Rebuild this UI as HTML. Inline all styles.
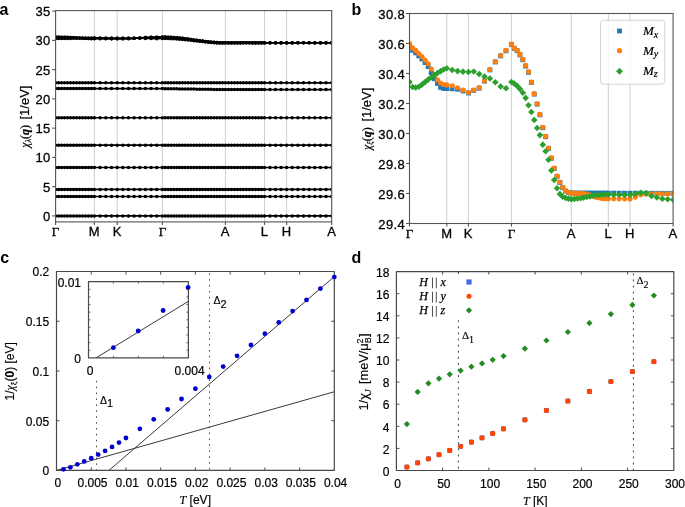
<!DOCTYPE html>
<html><head><meta charset="utf-8"><style>
html,body{margin:0;padding:0;background:#fff;}
svg{display:block;}
svg{will-change:transform;}
.ta{font-family:"Liberation Sans", sans-serif;font-size:13px;fill:#000;letter-spacing:0.4px;stroke:#000;stroke-width:0.3px;}
.tc{font-family:"Liberation Sans", sans-serif;font-size:12px;fill:#000;stroke:#000;stroke-width:0.2px;}
.tcl{font-family:"Liberation Sans", sans-serif;font-size:12px;fill:#000;stroke:#000;stroke-width:0.15px;}
.yl{font-family:"Liberation Sans", sans-serif;font-size:12px;fill:#000;stroke:#000;stroke-width:0.2px;}
.tg{font-family:"Liberation Serif", serif;font-size:13px;fill:#000;stroke:#000;stroke-width:0.3px;}
.lab{font-family:"Liberation Sans", sans-serif;font-size:16px;font-weight:bold;fill:#000;}
.leg{font-family:"Liberation Serif", serif;font-size:13px;font-style:italic;fill:#000;stroke:#000;stroke-width:0.2px;}
.dleg{font-family:"Liberation Serif", serif;font-size:12px;fill:#000;stroke:#000;stroke-width:0.25px;}
.dl{font-family:"Liberation Sans", sans-serif;font-size:10.5px;fill:#000;stroke:#000;stroke-width:0.15px;}
.dl2{font-family:"Liberation Serif", serif;font-size:11px;fill:#000;stroke:#000;stroke-width:0.15px;}
</style></head><body>
<svg width="685" height="507" viewBox="0 0 685 507">
<rect width="685" height="507" fill="#fff"/>
<g id="pa">
<line x1="94.4" y1="10.6" x2="94.4" y2="221.9" stroke="#c8c8c8" stroke-width="0.9"/>
<line x1="117.2" y1="10.6" x2="117.2" y2="221.9" stroke="#c8c8c8" stroke-width="0.9"/>
<line x1="162.4" y1="10.6" x2="162.4" y2="221.9" stroke="#c8c8c8" stroke-width="0.9"/>
<line x1="225.4" y1="10.6" x2="225.4" y2="221.9" stroke="#c8c8c8" stroke-width="0.9"/>
<line x1="264.5" y1="10.6" x2="264.5" y2="221.9" stroke="#c8c8c8" stroke-width="0.9"/>
<line x1="286.6" y1="10.6" x2="286.6" y2="221.9" stroke="#c8c8c8" stroke-width="0.9"/>
<clipPath id="ca"><rect x="55.6" y="10.6" width="276.1" height="211.3"/></clipPath><g clip-path="url(#ca)">
<polyline points="55.6,215.9 58.58,215.9 61.57,215.9 64.55,215.9 67.54,215.9 70.52,215.9 73.51,215.9 76.49,215.9 79.48,215.9 82.46,215.9 85.45,215.9 88.43,215.9 91.42,215.9 94.4,215.9 100.1,215.9 105.8,215.9 111.5,215.9 117.2,215.9 122.85,215.9 128.5,215.9 134.15,215.9 139.8,215.9 145.45,215.9 151.1,215.9 156.75,215.9 162.4,215.9 165.26,215.9 168.13,215.9 170.99,215.9 173.85,215.9 176.72,215.9 179.58,215.9 182.45,215.9 185.31,215.9 188.17,215.9 191.04,215.9 193.9,215.9 196.76,215.9 199.63,215.9 202.49,215.9 205.35,215.9 208.22,215.9 211.08,215.9 213.95,215.9 216.81,215.9 219.67,215.9 222.54,215.9 225.4,215.9 228.41,215.9 231.42,215.9 234.42,215.9 237.43,215.9 240.44,215.9 243.45,215.9 246.45,215.9 249.46,215.9 252.47,215.9 255.48,215.9 258.48,215.9 261.49,215.9 264.5,215.9 270.02,215.9 275.55,215.9 281.08,215.9 286.6,215.9 292.24,215.9 297.88,215.9 303.51,215.9 309.15,215.9 314.79,215.9 320.43,215.9 326.06,215.9 331.7,215.9" fill="none" stroke="#000" stroke-width="1.6"/>
<g fill="#000"><circle cx="55.6" cy="215.9" r="1.75"/><circle cx="58.58" cy="215.9" r="1.75"/><circle cx="61.57" cy="215.9" r="1.75"/><circle cx="64.55" cy="215.9" r="1.75"/><circle cx="67.54" cy="215.9" r="1.75"/><circle cx="70.52" cy="215.9" r="1.75"/><circle cx="73.51" cy="215.9" r="1.75"/><circle cx="76.49" cy="215.9" r="1.75"/><circle cx="79.48" cy="215.9" r="1.75"/><circle cx="82.46" cy="215.9" r="1.75"/><circle cx="85.45" cy="215.9" r="1.75"/><circle cx="88.43" cy="215.9" r="1.75"/><circle cx="91.42" cy="215.9" r="1.75"/><circle cx="94.4" cy="215.9" r="1.75"/><circle cx="100.1" cy="215.9" r="1.75"/><circle cx="105.8" cy="215.9" r="1.75"/><circle cx="111.5" cy="215.9" r="1.75"/><circle cx="117.2" cy="215.9" r="1.75"/><circle cx="122.85" cy="215.9" r="1.75"/><circle cx="128.5" cy="215.9" r="1.75"/><circle cx="134.15" cy="215.9" r="1.75"/><circle cx="139.8" cy="215.9" r="1.75"/><circle cx="145.45" cy="215.9" r="1.75"/><circle cx="151.1" cy="215.9" r="1.75"/><circle cx="156.75" cy="215.9" r="1.75"/><circle cx="162.4" cy="215.9" r="1.75"/><circle cx="165.26" cy="215.9" r="1.75"/><circle cx="168.13" cy="215.9" r="1.75"/><circle cx="170.99" cy="215.9" r="1.75"/><circle cx="173.85" cy="215.9" r="1.75"/><circle cx="176.72" cy="215.9" r="1.75"/><circle cx="179.58" cy="215.9" r="1.75"/><circle cx="182.45" cy="215.9" r="1.75"/><circle cx="185.31" cy="215.9" r="1.75"/><circle cx="188.17" cy="215.9" r="1.75"/><circle cx="191.04" cy="215.9" r="1.75"/><circle cx="193.9" cy="215.9" r="1.75"/><circle cx="196.76" cy="215.9" r="1.75"/><circle cx="199.63" cy="215.9" r="1.75"/><circle cx="202.49" cy="215.9" r="1.75"/><circle cx="205.35" cy="215.9" r="1.75"/><circle cx="208.22" cy="215.9" r="1.75"/><circle cx="211.08" cy="215.9" r="1.75"/><circle cx="213.95" cy="215.9" r="1.75"/><circle cx="216.81" cy="215.9" r="1.75"/><circle cx="219.67" cy="215.9" r="1.75"/><circle cx="222.54" cy="215.9" r="1.75"/><circle cx="225.4" cy="215.9" r="1.75"/><circle cx="228.41" cy="215.9" r="1.75"/><circle cx="231.42" cy="215.9" r="1.75"/><circle cx="234.42" cy="215.9" r="1.75"/><circle cx="237.43" cy="215.9" r="1.75"/><circle cx="240.44" cy="215.9" r="1.75"/><circle cx="243.45" cy="215.9" r="1.75"/><circle cx="246.45" cy="215.9" r="1.75"/><circle cx="249.46" cy="215.9" r="1.75"/><circle cx="252.47" cy="215.9" r="1.75"/><circle cx="255.48" cy="215.9" r="1.75"/><circle cx="258.48" cy="215.9" r="1.75"/><circle cx="261.49" cy="215.9" r="1.75"/><circle cx="264.5" cy="215.9" r="1.75"/><circle cx="270.02" cy="215.9" r="1.75"/><circle cx="275.55" cy="215.9" r="1.75"/><circle cx="281.08" cy="215.9" r="1.75"/><circle cx="286.6" cy="215.9" r="1.75"/><circle cx="292.24" cy="215.9" r="1.75"/><circle cx="297.88" cy="215.9" r="1.75"/><circle cx="303.51" cy="215.9" r="1.75"/><circle cx="309.15" cy="215.9" r="1.75"/><circle cx="314.79" cy="215.9" r="1.75"/><circle cx="320.43" cy="215.9" r="1.75"/><circle cx="326.06" cy="215.9" r="1.75"/><circle cx="331.7" cy="215.9" r="1.75"/></g>
<polyline points="55.6,196.48 58.58,196.48 61.57,196.48 64.55,196.48 67.54,196.48 70.52,196.48 73.51,196.48 76.49,196.48 79.48,196.48 82.46,196.48 85.45,196.48 88.43,196.48 91.42,196.48 94.4,196.48 100.1,196.48 105.8,196.48 111.5,196.48 117.2,196.48 122.85,196.48 128.5,196.48 134.15,196.48 139.8,196.48 145.45,196.48 151.1,196.48 156.75,196.48 162.4,196.48 165.26,196.48 168.13,196.48 170.99,196.48 173.85,196.48 176.72,196.48 179.58,196.48 182.45,196.48 185.31,196.48 188.17,196.48 191.04,196.48 193.9,196.48 196.76,196.48 199.63,196.48 202.49,196.48 205.35,196.48 208.22,196.48 211.08,196.48 213.95,196.48 216.81,196.48 219.67,196.48 222.54,196.48 225.4,196.48 228.41,196.48 231.42,196.48 234.42,196.48 237.43,196.48 240.44,196.48 243.45,196.48 246.45,196.48 249.46,196.48 252.47,196.48 255.48,196.48 258.48,196.48 261.49,196.48 264.5,196.48 270.02,196.48 275.55,196.48 281.08,196.48 286.6,196.48 292.24,196.48 297.88,196.48 303.51,196.48 309.15,196.48 314.79,196.48 320.43,196.48 326.06,196.48 331.7,196.48" fill="none" stroke="#000" stroke-width="1.6"/>
<g fill="#000"><circle cx="55.6" cy="196.48" r="1.75"/><circle cx="58.58" cy="196.48" r="1.75"/><circle cx="61.57" cy="196.48" r="1.75"/><circle cx="64.55" cy="196.48" r="1.75"/><circle cx="67.54" cy="196.48" r="1.75"/><circle cx="70.52" cy="196.48" r="1.75"/><circle cx="73.51" cy="196.48" r="1.75"/><circle cx="76.49" cy="196.48" r="1.75"/><circle cx="79.48" cy="196.48" r="1.75"/><circle cx="82.46" cy="196.48" r="1.75"/><circle cx="85.45" cy="196.48" r="1.75"/><circle cx="88.43" cy="196.48" r="1.75"/><circle cx="91.42" cy="196.48" r="1.75"/><circle cx="94.4" cy="196.48" r="1.75"/><circle cx="100.1" cy="196.48" r="1.75"/><circle cx="105.8" cy="196.48" r="1.75"/><circle cx="111.5" cy="196.48" r="1.75"/><circle cx="117.2" cy="196.48" r="1.75"/><circle cx="122.85" cy="196.48" r="1.75"/><circle cx="128.5" cy="196.48" r="1.75"/><circle cx="134.15" cy="196.48" r="1.75"/><circle cx="139.8" cy="196.48" r="1.75"/><circle cx="145.45" cy="196.48" r="1.75"/><circle cx="151.1" cy="196.48" r="1.75"/><circle cx="156.75" cy="196.48" r="1.75"/><circle cx="162.4" cy="196.48" r="1.75"/><circle cx="165.26" cy="196.48" r="1.75"/><circle cx="168.13" cy="196.48" r="1.75"/><circle cx="170.99" cy="196.48" r="1.75"/><circle cx="173.85" cy="196.48" r="1.75"/><circle cx="176.72" cy="196.48" r="1.75"/><circle cx="179.58" cy="196.48" r="1.75"/><circle cx="182.45" cy="196.48" r="1.75"/><circle cx="185.31" cy="196.48" r="1.75"/><circle cx="188.17" cy="196.48" r="1.75"/><circle cx="191.04" cy="196.48" r="1.75"/><circle cx="193.9" cy="196.48" r="1.75"/><circle cx="196.76" cy="196.48" r="1.75"/><circle cx="199.63" cy="196.48" r="1.75"/><circle cx="202.49" cy="196.48" r="1.75"/><circle cx="205.35" cy="196.48" r="1.75"/><circle cx="208.22" cy="196.48" r="1.75"/><circle cx="211.08" cy="196.48" r="1.75"/><circle cx="213.95" cy="196.48" r="1.75"/><circle cx="216.81" cy="196.48" r="1.75"/><circle cx="219.67" cy="196.48" r="1.75"/><circle cx="222.54" cy="196.48" r="1.75"/><circle cx="225.4" cy="196.48" r="1.75"/><circle cx="228.41" cy="196.48" r="1.75"/><circle cx="231.42" cy="196.48" r="1.75"/><circle cx="234.42" cy="196.48" r="1.75"/><circle cx="237.43" cy="196.48" r="1.75"/><circle cx="240.44" cy="196.48" r="1.75"/><circle cx="243.45" cy="196.48" r="1.75"/><circle cx="246.45" cy="196.48" r="1.75"/><circle cx="249.46" cy="196.48" r="1.75"/><circle cx="252.47" cy="196.48" r="1.75"/><circle cx="255.48" cy="196.48" r="1.75"/><circle cx="258.48" cy="196.48" r="1.75"/><circle cx="261.49" cy="196.48" r="1.75"/><circle cx="264.5" cy="196.48" r="1.75"/><circle cx="270.02" cy="196.48" r="1.75"/><circle cx="275.55" cy="196.48" r="1.75"/><circle cx="281.08" cy="196.48" r="1.75"/><circle cx="286.6" cy="196.48" r="1.75"/><circle cx="292.24" cy="196.48" r="1.75"/><circle cx="297.88" cy="196.48" r="1.75"/><circle cx="303.51" cy="196.48" r="1.75"/><circle cx="309.15" cy="196.48" r="1.75"/><circle cx="314.79" cy="196.48" r="1.75"/><circle cx="320.43" cy="196.48" r="1.75"/><circle cx="326.06" cy="196.48" r="1.75"/><circle cx="331.7" cy="196.48" r="1.75"/></g>
<polyline points="55.6,189.4 58.58,189.4 61.57,189.4 64.55,189.4 67.54,189.4 70.52,189.4 73.51,189.4 76.49,189.4 79.48,189.4 82.46,189.4 85.45,189.4 88.43,189.4 91.42,189.4 94.4,189.4 100.1,189.4 105.8,189.4 111.5,189.4 117.2,189.4 122.85,189.4 128.5,189.4 134.15,189.4 139.8,189.4 145.45,189.4 151.1,189.4 156.75,189.4 162.4,189.4 165.26,189.4 168.13,189.4 170.99,189.4 173.85,189.4 176.72,189.4 179.58,189.4 182.45,189.4 185.31,189.4 188.17,189.4 191.04,189.4 193.9,189.4 196.76,189.4 199.63,189.4 202.49,189.4 205.35,189.4 208.22,189.4 211.08,189.4 213.95,189.4 216.81,189.4 219.67,189.4 222.54,189.4 225.4,189.4 228.41,189.4 231.42,189.4 234.42,189.4 237.43,189.4 240.44,189.4 243.45,189.4 246.45,189.4 249.46,189.4 252.47,189.4 255.48,189.4 258.48,189.4 261.49,189.4 264.5,189.4 270.02,189.4 275.55,189.4 281.08,189.4 286.6,189.4 292.24,189.4 297.88,189.4 303.51,189.4 309.15,189.4 314.79,189.4 320.43,189.4 326.06,189.4 331.7,189.4" fill="none" stroke="#000" stroke-width="1.6"/>
<g fill="#000"><circle cx="55.6" cy="189.4" r="1.75"/><circle cx="58.58" cy="189.4" r="1.75"/><circle cx="61.57" cy="189.4" r="1.75"/><circle cx="64.55" cy="189.4" r="1.75"/><circle cx="67.54" cy="189.4" r="1.75"/><circle cx="70.52" cy="189.4" r="1.75"/><circle cx="73.51" cy="189.4" r="1.75"/><circle cx="76.49" cy="189.4" r="1.75"/><circle cx="79.48" cy="189.4" r="1.75"/><circle cx="82.46" cy="189.4" r="1.75"/><circle cx="85.45" cy="189.4" r="1.75"/><circle cx="88.43" cy="189.4" r="1.75"/><circle cx="91.42" cy="189.4" r="1.75"/><circle cx="94.4" cy="189.4" r="1.75"/><circle cx="100.1" cy="189.4" r="1.75"/><circle cx="105.8" cy="189.4" r="1.75"/><circle cx="111.5" cy="189.4" r="1.75"/><circle cx="117.2" cy="189.4" r="1.75"/><circle cx="122.85" cy="189.4" r="1.75"/><circle cx="128.5" cy="189.4" r="1.75"/><circle cx="134.15" cy="189.4" r="1.75"/><circle cx="139.8" cy="189.4" r="1.75"/><circle cx="145.45" cy="189.4" r="1.75"/><circle cx="151.1" cy="189.4" r="1.75"/><circle cx="156.75" cy="189.4" r="1.75"/><circle cx="162.4" cy="189.4" r="1.75"/><circle cx="165.26" cy="189.4" r="1.75"/><circle cx="168.13" cy="189.4" r="1.75"/><circle cx="170.99" cy="189.4" r="1.75"/><circle cx="173.85" cy="189.4" r="1.75"/><circle cx="176.72" cy="189.4" r="1.75"/><circle cx="179.58" cy="189.4" r="1.75"/><circle cx="182.45" cy="189.4" r="1.75"/><circle cx="185.31" cy="189.4" r="1.75"/><circle cx="188.17" cy="189.4" r="1.75"/><circle cx="191.04" cy="189.4" r="1.75"/><circle cx="193.9" cy="189.4" r="1.75"/><circle cx="196.76" cy="189.4" r="1.75"/><circle cx="199.63" cy="189.4" r="1.75"/><circle cx="202.49" cy="189.4" r="1.75"/><circle cx="205.35" cy="189.4" r="1.75"/><circle cx="208.22" cy="189.4" r="1.75"/><circle cx="211.08" cy="189.4" r="1.75"/><circle cx="213.95" cy="189.4" r="1.75"/><circle cx="216.81" cy="189.4" r="1.75"/><circle cx="219.67" cy="189.4" r="1.75"/><circle cx="222.54" cy="189.4" r="1.75"/><circle cx="225.4" cy="189.4" r="1.75"/><circle cx="228.41" cy="189.4" r="1.75"/><circle cx="231.42" cy="189.4" r="1.75"/><circle cx="234.42" cy="189.4" r="1.75"/><circle cx="237.43" cy="189.4" r="1.75"/><circle cx="240.44" cy="189.4" r="1.75"/><circle cx="243.45" cy="189.4" r="1.75"/><circle cx="246.45" cy="189.4" r="1.75"/><circle cx="249.46" cy="189.4" r="1.75"/><circle cx="252.47" cy="189.4" r="1.75"/><circle cx="255.48" cy="189.4" r="1.75"/><circle cx="258.48" cy="189.4" r="1.75"/><circle cx="261.49" cy="189.4" r="1.75"/><circle cx="264.5" cy="189.4" r="1.75"/><circle cx="270.02" cy="189.4" r="1.75"/><circle cx="275.55" cy="189.4" r="1.75"/><circle cx="281.08" cy="189.4" r="1.75"/><circle cx="286.6" cy="189.4" r="1.75"/><circle cx="292.24" cy="189.4" r="1.75"/><circle cx="297.88" cy="189.4" r="1.75"/><circle cx="303.51" cy="189.4" r="1.75"/><circle cx="309.15" cy="189.4" r="1.75"/><circle cx="314.79" cy="189.4" r="1.75"/><circle cx="320.43" cy="189.4" r="1.75"/><circle cx="326.06" cy="189.4" r="1.75"/><circle cx="331.7" cy="189.4" r="1.75"/></g>
<polyline points="55.6,167.52 58.58,167.52 61.57,167.52 64.55,167.52 67.54,167.52 70.52,167.52 73.51,167.52 76.49,167.52 79.48,167.52 82.46,167.52 85.45,167.52 88.43,167.52 91.42,167.52 94.4,167.52 100.1,167.52 105.8,167.52 111.5,167.52 117.2,167.52 122.85,167.52 128.5,167.52 134.15,167.52 139.8,167.52 145.45,167.52 151.1,167.52 156.75,167.52 162.4,167.52 165.26,167.52 168.13,167.52 170.99,167.52 173.85,167.52 176.72,167.52 179.58,167.52 182.45,167.52 185.31,167.52 188.17,167.52 191.04,167.52 193.9,167.52 196.76,167.52 199.63,167.52 202.49,167.52 205.35,167.52 208.22,167.52 211.08,167.52 213.95,167.52 216.81,167.52 219.67,167.52 222.54,167.52 225.4,167.52 228.41,167.52 231.42,167.52 234.42,167.52 237.43,167.52 240.44,167.52 243.45,167.52 246.45,167.52 249.46,167.52 252.47,167.52 255.48,167.52 258.48,167.52 261.49,167.52 264.5,167.52 270.02,167.52 275.55,167.52 281.08,167.52 286.6,167.52 292.24,167.52 297.88,167.52 303.51,167.52 309.15,167.52 314.79,167.52 320.43,167.52 326.06,167.52 331.7,167.52" fill="none" stroke="#000" stroke-width="1.6"/>
<g fill="#000"><circle cx="55.6" cy="167.52" r="1.75"/><circle cx="58.58" cy="167.52" r="1.75"/><circle cx="61.57" cy="167.52" r="1.75"/><circle cx="64.55" cy="167.52" r="1.75"/><circle cx="67.54" cy="167.52" r="1.75"/><circle cx="70.52" cy="167.52" r="1.75"/><circle cx="73.51" cy="167.52" r="1.75"/><circle cx="76.49" cy="167.52" r="1.75"/><circle cx="79.48" cy="167.52" r="1.75"/><circle cx="82.46" cy="167.52" r="1.75"/><circle cx="85.45" cy="167.52" r="1.75"/><circle cx="88.43" cy="167.52" r="1.75"/><circle cx="91.42" cy="167.52" r="1.75"/><circle cx="94.4" cy="167.52" r="1.75"/><circle cx="100.1" cy="167.52" r="1.75"/><circle cx="105.8" cy="167.52" r="1.75"/><circle cx="111.5" cy="167.52" r="1.75"/><circle cx="117.2" cy="167.52" r="1.75"/><circle cx="122.85" cy="167.52" r="1.75"/><circle cx="128.5" cy="167.52" r="1.75"/><circle cx="134.15" cy="167.52" r="1.75"/><circle cx="139.8" cy="167.52" r="1.75"/><circle cx="145.45" cy="167.52" r="1.75"/><circle cx="151.1" cy="167.52" r="1.75"/><circle cx="156.75" cy="167.52" r="1.75"/><circle cx="162.4" cy="167.52" r="1.75"/><circle cx="165.26" cy="167.52" r="1.75"/><circle cx="168.13" cy="167.52" r="1.75"/><circle cx="170.99" cy="167.52" r="1.75"/><circle cx="173.85" cy="167.52" r="1.75"/><circle cx="176.72" cy="167.52" r="1.75"/><circle cx="179.58" cy="167.52" r="1.75"/><circle cx="182.45" cy="167.52" r="1.75"/><circle cx="185.31" cy="167.52" r="1.75"/><circle cx="188.17" cy="167.52" r="1.75"/><circle cx="191.04" cy="167.52" r="1.75"/><circle cx="193.9" cy="167.52" r="1.75"/><circle cx="196.76" cy="167.52" r="1.75"/><circle cx="199.63" cy="167.52" r="1.75"/><circle cx="202.49" cy="167.52" r="1.75"/><circle cx="205.35" cy="167.52" r="1.75"/><circle cx="208.22" cy="167.52" r="1.75"/><circle cx="211.08" cy="167.52" r="1.75"/><circle cx="213.95" cy="167.52" r="1.75"/><circle cx="216.81" cy="167.52" r="1.75"/><circle cx="219.67" cy="167.52" r="1.75"/><circle cx="222.54" cy="167.52" r="1.75"/><circle cx="225.4" cy="167.52" r="1.75"/><circle cx="228.41" cy="167.52" r="1.75"/><circle cx="231.42" cy="167.52" r="1.75"/><circle cx="234.42" cy="167.52" r="1.75"/><circle cx="237.43" cy="167.52" r="1.75"/><circle cx="240.44" cy="167.52" r="1.75"/><circle cx="243.45" cy="167.52" r="1.75"/><circle cx="246.45" cy="167.52" r="1.75"/><circle cx="249.46" cy="167.52" r="1.75"/><circle cx="252.47" cy="167.52" r="1.75"/><circle cx="255.48" cy="167.52" r="1.75"/><circle cx="258.48" cy="167.52" r="1.75"/><circle cx="261.49" cy="167.52" r="1.75"/><circle cx="264.5" cy="167.52" r="1.75"/><circle cx="270.02" cy="167.52" r="1.75"/><circle cx="275.55" cy="167.52" r="1.75"/><circle cx="281.08" cy="167.52" r="1.75"/><circle cx="286.6" cy="167.52" r="1.75"/><circle cx="292.24" cy="167.52" r="1.75"/><circle cx="297.88" cy="167.52" r="1.75"/><circle cx="303.51" cy="167.52" r="1.75"/><circle cx="309.15" cy="167.52" r="1.75"/><circle cx="314.79" cy="167.52" r="1.75"/><circle cx="320.43" cy="167.52" r="1.75"/><circle cx="326.06" cy="167.52" r="1.75"/><circle cx="331.7" cy="167.52" r="1.75"/></g>
<polyline points="55.6,145.17 58.58,145.17 61.57,145.17 64.55,145.17 67.54,145.17 70.52,145.17 73.51,145.17 76.49,145.17 79.48,145.17 82.46,145.17 85.45,145.17 88.43,145.17 91.42,145.17 94.4,145.17 100.1,145.17 105.8,145.17 111.5,145.17 117.2,145.17 122.85,145.17 128.5,145.17 134.15,145.17 139.8,145.17 145.45,145.17 151.1,145.17 156.75,145.17 162.4,145.17 165.26,145.17 168.13,145.17 170.99,145.17 173.85,145.17 176.72,145.17 179.58,145.17 182.45,145.17 185.31,145.17 188.17,145.17 191.04,145.17 193.9,145.17 196.76,145.17 199.63,145.17 202.49,145.17 205.35,145.17 208.22,145.17 211.08,145.17 213.95,145.17 216.81,145.17 219.67,145.17 222.54,145.17 225.4,145.17 228.41,145.17 231.42,145.17 234.42,145.17 237.43,145.17 240.44,145.17 243.45,145.17 246.45,145.17 249.46,145.17 252.47,145.17 255.48,145.17 258.48,145.17 261.49,145.17 264.5,145.17 270.02,145.17 275.55,145.17 281.08,145.17 286.6,145.17 292.24,145.17 297.88,145.17 303.51,145.17 309.15,145.17 314.79,145.17 320.43,145.17 326.06,145.17 331.7,145.17" fill="none" stroke="#000" stroke-width="1.6"/>
<g fill="#000"><circle cx="55.6" cy="145.17" r="1.75"/><circle cx="58.58" cy="145.17" r="1.75"/><circle cx="61.57" cy="145.17" r="1.75"/><circle cx="64.55" cy="145.17" r="1.75"/><circle cx="67.54" cy="145.17" r="1.75"/><circle cx="70.52" cy="145.17" r="1.75"/><circle cx="73.51" cy="145.17" r="1.75"/><circle cx="76.49" cy="145.17" r="1.75"/><circle cx="79.48" cy="145.17" r="1.75"/><circle cx="82.46" cy="145.17" r="1.75"/><circle cx="85.45" cy="145.17" r="1.75"/><circle cx="88.43" cy="145.17" r="1.75"/><circle cx="91.42" cy="145.17" r="1.75"/><circle cx="94.4" cy="145.17" r="1.75"/><circle cx="100.1" cy="145.17" r="1.75"/><circle cx="105.8" cy="145.17" r="1.75"/><circle cx="111.5" cy="145.17" r="1.75"/><circle cx="117.2" cy="145.17" r="1.75"/><circle cx="122.85" cy="145.17" r="1.75"/><circle cx="128.5" cy="145.17" r="1.75"/><circle cx="134.15" cy="145.17" r="1.75"/><circle cx="139.8" cy="145.17" r="1.75"/><circle cx="145.45" cy="145.17" r="1.75"/><circle cx="151.1" cy="145.17" r="1.75"/><circle cx="156.75" cy="145.17" r="1.75"/><circle cx="162.4" cy="145.17" r="1.75"/><circle cx="165.26" cy="145.17" r="1.75"/><circle cx="168.13" cy="145.17" r="1.75"/><circle cx="170.99" cy="145.17" r="1.75"/><circle cx="173.85" cy="145.17" r="1.75"/><circle cx="176.72" cy="145.17" r="1.75"/><circle cx="179.58" cy="145.17" r="1.75"/><circle cx="182.45" cy="145.17" r="1.75"/><circle cx="185.31" cy="145.17" r="1.75"/><circle cx="188.17" cy="145.17" r="1.75"/><circle cx="191.04" cy="145.17" r="1.75"/><circle cx="193.9" cy="145.17" r="1.75"/><circle cx="196.76" cy="145.17" r="1.75"/><circle cx="199.63" cy="145.17" r="1.75"/><circle cx="202.49" cy="145.17" r="1.75"/><circle cx="205.35" cy="145.17" r="1.75"/><circle cx="208.22" cy="145.17" r="1.75"/><circle cx="211.08" cy="145.17" r="1.75"/><circle cx="213.95" cy="145.17" r="1.75"/><circle cx="216.81" cy="145.17" r="1.75"/><circle cx="219.67" cy="145.17" r="1.75"/><circle cx="222.54" cy="145.17" r="1.75"/><circle cx="225.4" cy="145.17" r="1.75"/><circle cx="228.41" cy="145.17" r="1.75"/><circle cx="231.42" cy="145.17" r="1.75"/><circle cx="234.42" cy="145.17" r="1.75"/><circle cx="237.43" cy="145.17" r="1.75"/><circle cx="240.44" cy="145.17" r="1.75"/><circle cx="243.45" cy="145.17" r="1.75"/><circle cx="246.45" cy="145.17" r="1.75"/><circle cx="249.46" cy="145.17" r="1.75"/><circle cx="252.47" cy="145.17" r="1.75"/><circle cx="255.48" cy="145.17" r="1.75"/><circle cx="258.48" cy="145.17" r="1.75"/><circle cx="261.49" cy="145.17" r="1.75"/><circle cx="264.5" cy="145.17" r="1.75"/><circle cx="270.02" cy="145.17" r="1.75"/><circle cx="275.55" cy="145.17" r="1.75"/><circle cx="281.08" cy="145.17" r="1.75"/><circle cx="286.6" cy="145.17" r="1.75"/><circle cx="292.24" cy="145.17" r="1.75"/><circle cx="297.88" cy="145.17" r="1.75"/><circle cx="303.51" cy="145.17" r="1.75"/><circle cx="309.15" cy="145.17" r="1.75"/><circle cx="314.79" cy="145.17" r="1.75"/><circle cx="320.43" cy="145.17" r="1.75"/><circle cx="326.06" cy="145.17" r="1.75"/><circle cx="331.7" cy="145.17" r="1.75"/></g>
<polyline points="55.6,117.68 58.58,117.68 61.57,117.68 64.55,117.68 67.54,117.68 70.52,117.68 73.51,117.68 76.49,117.68 79.48,117.68 82.46,117.68 85.45,117.68 88.43,117.68 91.42,117.68 94.4,117.68 100.1,117.68 105.8,117.68 111.5,117.68 117.2,117.68 122.85,117.68 128.5,117.68 134.15,117.68 139.8,117.68 145.45,117.68 151.1,117.68 156.75,117.68 162.4,117.68 165.26,117.68 168.13,117.68 170.99,117.68 173.85,117.68 176.72,117.68 179.58,117.68 182.45,117.68 185.31,117.68 188.17,117.68 191.04,117.68 193.9,117.68 196.76,117.68 199.63,117.68 202.49,117.68 205.35,117.68 208.22,117.68 211.08,117.68 213.95,117.68 216.81,117.68 219.67,117.68 222.54,117.68 225.4,117.68 228.41,117.68 231.42,117.68 234.42,117.68 237.43,117.68 240.44,117.68 243.45,117.68 246.45,117.68 249.46,117.68 252.47,117.68 255.48,117.68 258.48,117.68 261.49,117.68 264.5,117.68 270.02,117.68 275.55,117.68 281.08,117.68 286.6,117.68 292.24,117.68 297.88,117.68 303.51,117.68 309.15,117.68 314.79,117.68 320.43,117.68 326.06,117.68 331.7,117.68" fill="none" stroke="#000" stroke-width="1.6"/>
<g fill="#000"><circle cx="55.6" cy="117.68" r="1.75"/><circle cx="58.58" cy="117.68" r="1.75"/><circle cx="61.57" cy="117.68" r="1.75"/><circle cx="64.55" cy="117.68" r="1.75"/><circle cx="67.54" cy="117.68" r="1.75"/><circle cx="70.52" cy="117.68" r="1.75"/><circle cx="73.51" cy="117.68" r="1.75"/><circle cx="76.49" cy="117.68" r="1.75"/><circle cx="79.48" cy="117.68" r="1.75"/><circle cx="82.46" cy="117.68" r="1.75"/><circle cx="85.45" cy="117.68" r="1.75"/><circle cx="88.43" cy="117.68" r="1.75"/><circle cx="91.42" cy="117.68" r="1.75"/><circle cx="94.4" cy="117.68" r="1.75"/><circle cx="100.1" cy="117.68" r="1.75"/><circle cx="105.8" cy="117.68" r="1.75"/><circle cx="111.5" cy="117.68" r="1.75"/><circle cx="117.2" cy="117.68" r="1.75"/><circle cx="122.85" cy="117.68" r="1.75"/><circle cx="128.5" cy="117.68" r="1.75"/><circle cx="134.15" cy="117.68" r="1.75"/><circle cx="139.8" cy="117.68" r="1.75"/><circle cx="145.45" cy="117.68" r="1.75"/><circle cx="151.1" cy="117.68" r="1.75"/><circle cx="156.75" cy="117.68" r="1.75"/><circle cx="162.4" cy="117.68" r="1.75"/><circle cx="165.26" cy="117.68" r="1.75"/><circle cx="168.13" cy="117.68" r="1.75"/><circle cx="170.99" cy="117.68" r="1.75"/><circle cx="173.85" cy="117.68" r="1.75"/><circle cx="176.72" cy="117.68" r="1.75"/><circle cx="179.58" cy="117.68" r="1.75"/><circle cx="182.45" cy="117.68" r="1.75"/><circle cx="185.31" cy="117.68" r="1.75"/><circle cx="188.17" cy="117.68" r="1.75"/><circle cx="191.04" cy="117.68" r="1.75"/><circle cx="193.9" cy="117.68" r="1.75"/><circle cx="196.76" cy="117.68" r="1.75"/><circle cx="199.63" cy="117.68" r="1.75"/><circle cx="202.49" cy="117.68" r="1.75"/><circle cx="205.35" cy="117.68" r="1.75"/><circle cx="208.22" cy="117.68" r="1.75"/><circle cx="211.08" cy="117.68" r="1.75"/><circle cx="213.95" cy="117.68" r="1.75"/><circle cx="216.81" cy="117.68" r="1.75"/><circle cx="219.67" cy="117.68" r="1.75"/><circle cx="222.54" cy="117.68" r="1.75"/><circle cx="225.4" cy="117.68" r="1.75"/><circle cx="228.41" cy="117.68" r="1.75"/><circle cx="231.42" cy="117.68" r="1.75"/><circle cx="234.42" cy="117.68" r="1.75"/><circle cx="237.43" cy="117.68" r="1.75"/><circle cx="240.44" cy="117.68" r="1.75"/><circle cx="243.45" cy="117.68" r="1.75"/><circle cx="246.45" cy="117.68" r="1.75"/><circle cx="249.46" cy="117.68" r="1.75"/><circle cx="252.47" cy="117.68" r="1.75"/><circle cx="255.48" cy="117.68" r="1.75"/><circle cx="258.48" cy="117.68" r="1.75"/><circle cx="261.49" cy="117.68" r="1.75"/><circle cx="264.5" cy="117.68" r="1.75"/><circle cx="270.02" cy="117.68" r="1.75"/><circle cx="275.55" cy="117.68" r="1.75"/><circle cx="281.08" cy="117.68" r="1.75"/><circle cx="286.6" cy="117.68" r="1.75"/><circle cx="292.24" cy="117.68" r="1.75"/><circle cx="297.88" cy="117.68" r="1.75"/><circle cx="303.51" cy="117.68" r="1.75"/><circle cx="309.15" cy="117.68" r="1.75"/><circle cx="314.79" cy="117.68" r="1.75"/><circle cx="320.43" cy="117.68" r="1.75"/><circle cx="326.06" cy="117.68" r="1.75"/><circle cx="331.7" cy="117.68" r="1.75"/></g>
<polyline points="55.6,82.87 58.58,82.87 61.57,82.87 64.55,82.87 67.54,82.87 70.52,82.87 73.51,82.87 76.49,82.87 79.48,82.87 82.46,82.87 85.45,82.87 88.43,82.87 91.42,82.87 94.4,82.87 100.1,82.87 105.8,82.87 111.5,82.87 117.2,82.87 122.85,82.87 128.5,82.87 134.15,82.87 139.8,82.87 145.45,82.87 151.1,82.87 156.75,82.87 162.4,82.87 165.26,82.87 168.13,82.87 170.99,82.87 173.85,82.87 176.72,82.87 179.58,82.87 182.45,82.87 185.31,82.87 188.17,82.87 191.04,82.87 193.9,82.87 196.76,82.87 199.63,82.87 202.49,82.87 205.35,82.87 208.22,82.87 211.08,82.87 213.95,82.87 216.81,82.87 219.67,82.87 222.54,82.87 225.4,82.87 228.41,82.87 231.42,82.87 234.42,82.87 237.43,82.87 240.44,82.87 243.45,82.87 246.45,82.87 249.46,82.87 252.47,82.87 255.48,82.87 258.48,82.87 261.49,82.87 264.5,82.87 270.02,82.87 275.55,82.87 281.08,82.87 286.6,82.87 292.24,82.87 297.88,82.87 303.51,82.87 309.15,82.87 314.79,82.87 320.43,82.87 326.06,82.87 331.7,82.87" fill="none" stroke="#000" stroke-width="1.6"/>
<g fill="#000"><circle cx="55.6" cy="82.87" r="1.75"/><circle cx="58.58" cy="82.87" r="1.75"/><circle cx="61.57" cy="82.87" r="1.75"/><circle cx="64.55" cy="82.87" r="1.75"/><circle cx="67.54" cy="82.87" r="1.75"/><circle cx="70.52" cy="82.87" r="1.75"/><circle cx="73.51" cy="82.87" r="1.75"/><circle cx="76.49" cy="82.87" r="1.75"/><circle cx="79.48" cy="82.87" r="1.75"/><circle cx="82.46" cy="82.87" r="1.75"/><circle cx="85.45" cy="82.87" r="1.75"/><circle cx="88.43" cy="82.87" r="1.75"/><circle cx="91.42" cy="82.87" r="1.75"/><circle cx="94.4" cy="82.87" r="1.75"/><circle cx="100.1" cy="82.87" r="1.75"/><circle cx="105.8" cy="82.87" r="1.75"/><circle cx="111.5" cy="82.87" r="1.75"/><circle cx="117.2" cy="82.87" r="1.75"/><circle cx="122.85" cy="82.87" r="1.75"/><circle cx="128.5" cy="82.87" r="1.75"/><circle cx="134.15" cy="82.87" r="1.75"/><circle cx="139.8" cy="82.87" r="1.75"/><circle cx="145.45" cy="82.87" r="1.75"/><circle cx="151.1" cy="82.87" r="1.75"/><circle cx="156.75" cy="82.87" r="1.75"/><circle cx="162.4" cy="82.87" r="1.75"/><circle cx="165.26" cy="82.87" r="1.75"/><circle cx="168.13" cy="82.87" r="1.75"/><circle cx="170.99" cy="82.87" r="1.75"/><circle cx="173.85" cy="82.87" r="1.75"/><circle cx="176.72" cy="82.87" r="1.75"/><circle cx="179.58" cy="82.87" r="1.75"/><circle cx="182.45" cy="82.87" r="1.75"/><circle cx="185.31" cy="82.87" r="1.75"/><circle cx="188.17" cy="82.87" r="1.75"/><circle cx="191.04" cy="82.87" r="1.75"/><circle cx="193.9" cy="82.87" r="1.75"/><circle cx="196.76" cy="82.87" r="1.75"/><circle cx="199.63" cy="82.87" r="1.75"/><circle cx="202.49" cy="82.87" r="1.75"/><circle cx="205.35" cy="82.87" r="1.75"/><circle cx="208.22" cy="82.87" r="1.75"/><circle cx="211.08" cy="82.87" r="1.75"/><circle cx="213.95" cy="82.87" r="1.75"/><circle cx="216.81" cy="82.87" r="1.75"/><circle cx="219.67" cy="82.87" r="1.75"/><circle cx="222.54" cy="82.87" r="1.75"/><circle cx="225.4" cy="82.87" r="1.75"/><circle cx="228.41" cy="82.87" r="1.75"/><circle cx="231.42" cy="82.87" r="1.75"/><circle cx="234.42" cy="82.87" r="1.75"/><circle cx="237.43" cy="82.87" r="1.75"/><circle cx="240.44" cy="82.87" r="1.75"/><circle cx="243.45" cy="82.87" r="1.75"/><circle cx="246.45" cy="82.87" r="1.75"/><circle cx="249.46" cy="82.87" r="1.75"/><circle cx="252.47" cy="82.87" r="1.75"/><circle cx="255.48" cy="82.87" r="1.75"/><circle cx="258.48" cy="82.87" r="1.75"/><circle cx="261.49" cy="82.87" r="1.75"/><circle cx="264.5" cy="82.87" r="1.75"/><circle cx="270.02" cy="82.87" r="1.75"/><circle cx="275.55" cy="82.87" r="1.75"/><circle cx="281.08" cy="82.87" r="1.75"/><circle cx="286.6" cy="82.87" r="1.75"/><circle cx="292.24" cy="82.87" r="1.75"/><circle cx="297.88" cy="82.87" r="1.75"/><circle cx="303.51" cy="82.87" r="1.75"/><circle cx="309.15" cy="82.87" r="1.75"/><circle cx="314.79" cy="82.87" r="1.75"/><circle cx="320.43" cy="82.87" r="1.75"/><circle cx="326.06" cy="82.87" r="1.75"/><circle cx="331.7" cy="82.87" r="1.75"/></g>
<polyline points="55.6,88.6 58.58,88.6 61.57,88.6 64.55,88.6 67.54,88.6 70.52,88.6 73.51,88.6 76.49,88.6 79.48,88.6 82.46,88.6 85.45,88.6 88.43,88.6 91.42,88.6 94.4,88.6 100.1,88.6 105.8,88.6 111.5,88.6 117.2,88.6 122.85,88.6 128.5,88.6 134.15,88.6 139.8,88.6 145.45,88.6 151.1,88.6 156.75,88.6 162.4,88.6 165.26,88.65 168.13,88.69 170.99,88.74 173.85,88.78 176.72,88.83 179.58,88.88 182.45,88.92 185.31,88.97 188.17,89.01 191.04,89.06 193.9,89.1 196.76,89.15 199.63,89.19 202.49,89.24 205.35,89.28 208.22,89.33 211.08,89.37 213.95,89.42 216.81,89.46 219.67,89.51 222.54,89.55 225.4,89.6 228.41,89.6 231.42,89.6 234.42,89.6 237.43,89.6 240.44,89.6 243.45,89.6 246.45,89.6 249.46,89.6 252.47,89.6 255.48,89.6 258.48,89.6 261.49,89.6 264.5,89.6 270.02,89.6 275.55,89.6 281.08,89.6 286.6,89.6 292.24,89.6 297.88,89.6 303.51,89.6 309.15,89.6 314.79,89.6 320.43,89.6 326.06,89.6 331.7,89.6" fill="none" stroke="#000" stroke-width="1.6"/>
<g fill="#000"><circle cx="55.6" cy="88.6" r="1.75"/><circle cx="58.58" cy="88.6" r="1.75"/><circle cx="61.57" cy="88.6" r="1.75"/><circle cx="64.55" cy="88.6" r="1.75"/><circle cx="67.54" cy="88.6" r="1.75"/><circle cx="70.52" cy="88.6" r="1.75"/><circle cx="73.51" cy="88.6" r="1.75"/><circle cx="76.49" cy="88.6" r="1.75"/><circle cx="79.48" cy="88.6" r="1.75"/><circle cx="82.46" cy="88.6" r="1.75"/><circle cx="85.45" cy="88.6" r="1.75"/><circle cx="88.43" cy="88.6" r="1.75"/><circle cx="91.42" cy="88.6" r="1.75"/><circle cx="94.4" cy="88.6" r="1.75"/><circle cx="100.1" cy="88.6" r="1.75"/><circle cx="105.8" cy="88.6" r="1.75"/><circle cx="111.5" cy="88.6" r="1.75"/><circle cx="117.2" cy="88.6" r="1.75"/><circle cx="122.85" cy="88.6" r="1.75"/><circle cx="128.5" cy="88.6" r="1.75"/><circle cx="134.15" cy="88.6" r="1.75"/><circle cx="139.8" cy="88.6" r="1.75"/><circle cx="145.45" cy="88.6" r="1.75"/><circle cx="151.1" cy="88.6" r="1.75"/><circle cx="156.75" cy="88.6" r="1.75"/><circle cx="162.4" cy="88.6" r="1.75"/><circle cx="165.26" cy="88.65" r="1.75"/><circle cx="168.13" cy="88.69" r="1.75"/><circle cx="170.99" cy="88.74" r="1.75"/><circle cx="173.85" cy="88.78" r="1.75"/><circle cx="176.72" cy="88.83" r="1.75"/><circle cx="179.58" cy="88.88" r="1.75"/><circle cx="182.45" cy="88.92" r="1.75"/><circle cx="185.31" cy="88.97" r="1.75"/><circle cx="188.17" cy="89.01" r="1.75"/><circle cx="191.04" cy="89.06" r="1.75"/><circle cx="193.9" cy="89.1" r="1.75"/><circle cx="196.76" cy="89.15" r="1.75"/><circle cx="199.63" cy="89.19" r="1.75"/><circle cx="202.49" cy="89.24" r="1.75"/><circle cx="205.35" cy="89.28" r="1.75"/><circle cx="208.22" cy="89.33" r="1.75"/><circle cx="211.08" cy="89.37" r="1.75"/><circle cx="213.95" cy="89.42" r="1.75"/><circle cx="216.81" cy="89.46" r="1.75"/><circle cx="219.67" cy="89.51" r="1.75"/><circle cx="222.54" cy="89.55" r="1.75"/><circle cx="225.4" cy="89.6" r="1.75"/><circle cx="228.41" cy="89.6" r="1.75"/><circle cx="231.42" cy="89.6" r="1.75"/><circle cx="234.42" cy="89.6" r="1.75"/><circle cx="237.43" cy="89.6" r="1.75"/><circle cx="240.44" cy="89.6" r="1.75"/><circle cx="243.45" cy="89.6" r="1.75"/><circle cx="246.45" cy="89.6" r="1.75"/><circle cx="249.46" cy="89.6" r="1.75"/><circle cx="252.47" cy="89.6" r="1.75"/><circle cx="255.48" cy="89.6" r="1.75"/><circle cx="258.48" cy="89.6" r="1.75"/><circle cx="261.49" cy="89.6" r="1.75"/><circle cx="264.5" cy="89.6" r="1.75"/><circle cx="270.02" cy="89.6" r="1.75"/><circle cx="275.55" cy="89.6" r="1.75"/><circle cx="281.08" cy="89.6" r="1.75"/><circle cx="286.6" cy="89.6" r="1.75"/><circle cx="292.24" cy="89.6" r="1.75"/><circle cx="297.88" cy="89.6" r="1.75"/><circle cx="303.51" cy="89.6" r="1.75"/><circle cx="309.15" cy="89.6" r="1.75"/><circle cx="314.79" cy="89.6" r="1.75"/><circle cx="320.43" cy="89.6" r="1.75"/><circle cx="326.06" cy="89.6" r="1.75"/><circle cx="331.7" cy="89.6" r="1.75"/></g>
<polyline points="55.6,36.95 58.58,37.14 61.57,37.24 64.55,37.34 67.54,37.46 70.52,37.57 73.51,37.71 76.49,37.89 79.48,38.12 82.46,38.32 85.45,38.48 88.43,38.62 91.42,38.64 94.4,38.65 100.1,38.66 105.8,38.67 111.5,38.74 117.2,38.82 122.85,38.72 128.5,38.63 134.15,38.36 139.8,37.92 145.45,37.61 151.1,37.37 156.75,37.17 162.4,36.93 165.26,37.07 168.13,37.16 170.99,37.31 173.85,37.49 176.72,37.71 179.58,37.95 182.45,38.28 185.31,38.7 188.17,39.09 191.04,39.48 193.9,39.93 196.76,40.33 199.63,40.71 202.49,41.12 205.35,41.49 208.22,41.85 211.08,42.13 213.95,42.35 216.81,42.54 219.67,42.66 222.54,42.7 225.4,42.72 228.41,42.72 231.42,42.72 234.42,42.72 237.43,42.72 240.44,42.72 243.45,42.72 246.45,42.72 249.46,42.73 252.47,42.73 255.48,42.73 258.48,42.73 261.49,42.73 264.5,42.73 270.02,42.73 275.55,42.73 281.08,42.73 286.6,42.73 292.24,42.73 297.88,42.73 303.51,42.73 309.15,42.73 314.79,42.73 320.43,42.73 326.06,42.73 331.7,42.73" fill="none" stroke="#000" stroke-width="1.6"/>
<g fill="#000"><circle cx="55.6" cy="36.95" r="1.75"/><circle cx="58.58" cy="37.14" r="1.75"/><circle cx="61.57" cy="37.24" r="1.75"/><circle cx="64.55" cy="37.34" r="1.75"/><circle cx="67.54" cy="37.46" r="1.75"/><circle cx="70.52" cy="37.57" r="1.75"/><circle cx="73.51" cy="37.71" r="1.75"/><circle cx="76.49" cy="37.89" r="1.75"/><circle cx="79.48" cy="38.12" r="1.75"/><circle cx="82.46" cy="38.32" r="1.75"/><circle cx="85.45" cy="38.48" r="1.75"/><circle cx="88.43" cy="38.62" r="1.75"/><circle cx="91.42" cy="38.64" r="1.75"/><circle cx="94.4" cy="38.65" r="1.75"/><circle cx="100.1" cy="38.66" r="1.75"/><circle cx="105.8" cy="38.67" r="1.75"/><circle cx="111.5" cy="38.74" r="1.75"/><circle cx="117.2" cy="38.82" r="1.75"/><circle cx="122.85" cy="38.72" r="1.75"/><circle cx="128.5" cy="38.63" r="1.75"/><circle cx="134.15" cy="38.36" r="1.75"/><circle cx="139.8" cy="37.92" r="1.75"/><circle cx="145.45" cy="37.61" r="1.75"/><circle cx="151.1" cy="37.37" r="1.75"/><circle cx="156.75" cy="37.17" r="1.75"/><circle cx="162.4" cy="36.93" r="1.75"/><circle cx="165.26" cy="37.07" r="1.75"/><circle cx="168.13" cy="37.16" r="1.75"/><circle cx="170.99" cy="37.31" r="1.75"/><circle cx="173.85" cy="37.49" r="1.75"/><circle cx="176.72" cy="37.71" r="1.75"/><circle cx="179.58" cy="37.95" r="1.75"/><circle cx="182.45" cy="38.28" r="1.75"/><circle cx="185.31" cy="38.7" r="1.75"/><circle cx="188.17" cy="39.09" r="1.75"/><circle cx="191.04" cy="39.48" r="1.75"/><circle cx="193.9" cy="39.93" r="1.75"/><circle cx="196.76" cy="40.33" r="1.75"/><circle cx="199.63" cy="40.71" r="1.75"/><circle cx="202.49" cy="41.12" r="1.75"/><circle cx="205.35" cy="41.49" r="1.75"/><circle cx="208.22" cy="41.85" r="1.75"/><circle cx="211.08" cy="42.13" r="1.75"/><circle cx="213.95" cy="42.35" r="1.75"/><circle cx="216.81" cy="42.54" r="1.75"/><circle cx="219.67" cy="42.66" r="1.75"/><circle cx="222.54" cy="42.7" r="1.75"/><circle cx="225.4" cy="42.72" r="1.75"/><circle cx="228.41" cy="42.72" r="1.75"/><circle cx="231.42" cy="42.72" r="1.75"/><circle cx="234.42" cy="42.72" r="1.75"/><circle cx="237.43" cy="42.72" r="1.75"/><circle cx="240.44" cy="42.72" r="1.75"/><circle cx="243.45" cy="42.72" r="1.75"/><circle cx="246.45" cy="42.72" r="1.75"/><circle cx="249.46" cy="42.73" r="1.75"/><circle cx="252.47" cy="42.73" r="1.75"/><circle cx="255.48" cy="42.73" r="1.75"/><circle cx="258.48" cy="42.73" r="1.75"/><circle cx="261.49" cy="42.73" r="1.75"/><circle cx="264.5" cy="42.73" r="1.75"/><circle cx="270.02" cy="42.73" r="1.75"/><circle cx="275.55" cy="42.73" r="1.75"/><circle cx="281.08" cy="42.73" r="1.75"/><circle cx="286.6" cy="42.73" r="1.75"/><circle cx="292.24" cy="42.73" r="1.75"/><circle cx="297.88" cy="42.73" r="1.75"/><circle cx="303.51" cy="42.73" r="1.75"/><circle cx="309.15" cy="42.73" r="1.75"/><circle cx="314.79" cy="42.73" r="1.75"/><circle cx="320.43" cy="42.73" r="1.75"/><circle cx="326.06" cy="42.73" r="1.75"/><circle cx="331.7" cy="42.73" r="1.75"/></g>
<polyline points="55.6,36.89 58.58,37.05 61.57,37.15 64.55,37.25 67.54,37.36 70.52,37.48 73.51,37.62 76.49,37.77 79.48,37.97 82.46,38.17 85.45,38.34 88.43,38.44 91.42,38.49 94.4,38.5 100.1,38.54 105.8,38.62 111.5,38.7 117.2,38.8 122.85,38.7 128.5,38.61 134.15,38.34 139.8,37.9 145.45,37.59 151.1,37.36 156.75,37.16 162.4,36.91 165.26,37.06 168.13,37.14 170.99,37.29 173.85,37.47 176.72,37.7 179.58,37.93 182.45,38.26 185.31,38.68 188.17,39.08 191.04,39.47 193.9,39.91 196.76,40.32 199.63,40.69 202.49,41.1 205.35,41.48 208.22,41.83 211.08,42.11 213.95,42.33 216.81,42.52 219.67,42.65 222.54,42.69 225.4,42.73 228.41,42.73 231.42,42.74 234.42,42.74 237.43,42.74 240.44,42.75 243.45,42.78 246.45,42.82 249.46,42.86 252.47,42.89 255.48,42.91 258.48,42.93 261.49,42.95 264.5,42.95 270.02,42.95 275.55,42.95 281.08,42.95 286.6,42.95 292.24,42.88 297.88,42.78 303.51,42.76 309.15,42.75 314.79,42.75 320.43,42.75 326.06,42.75 331.7,42.75" fill="none" stroke="#000" stroke-width="1.6"/>
<g fill="#000"><circle cx="55.6" cy="36.89" r="1.75"/><circle cx="58.58" cy="37.05" r="1.75"/><circle cx="61.57" cy="37.15" r="1.75"/><circle cx="64.55" cy="37.25" r="1.75"/><circle cx="67.54" cy="37.36" r="1.75"/><circle cx="70.52" cy="37.48" r="1.75"/><circle cx="73.51" cy="37.62" r="1.75"/><circle cx="76.49" cy="37.77" r="1.75"/><circle cx="79.48" cy="37.97" r="1.75"/><circle cx="82.46" cy="38.17" r="1.75"/><circle cx="85.45" cy="38.34" r="1.75"/><circle cx="88.43" cy="38.44" r="1.75"/><circle cx="91.42" cy="38.49" r="1.75"/><circle cx="94.4" cy="38.5" r="1.75"/><circle cx="100.1" cy="38.54" r="1.75"/><circle cx="105.8" cy="38.62" r="1.75"/><circle cx="111.5" cy="38.7" r="1.75"/><circle cx="117.2" cy="38.8" r="1.75"/><circle cx="122.85" cy="38.7" r="1.75"/><circle cx="128.5" cy="38.61" r="1.75"/><circle cx="134.15" cy="38.34" r="1.75"/><circle cx="139.8" cy="37.9" r="1.75"/><circle cx="145.45" cy="37.59" r="1.75"/><circle cx="151.1" cy="37.36" r="1.75"/><circle cx="156.75" cy="37.16" r="1.75"/><circle cx="162.4" cy="36.91" r="1.75"/><circle cx="165.26" cy="37.06" r="1.75"/><circle cx="168.13" cy="37.14" r="1.75"/><circle cx="170.99" cy="37.29" r="1.75"/><circle cx="173.85" cy="37.47" r="1.75"/><circle cx="176.72" cy="37.7" r="1.75"/><circle cx="179.58" cy="37.93" r="1.75"/><circle cx="182.45" cy="38.26" r="1.75"/><circle cx="185.31" cy="38.68" r="1.75"/><circle cx="188.17" cy="39.08" r="1.75"/><circle cx="191.04" cy="39.47" r="1.75"/><circle cx="193.9" cy="39.91" r="1.75"/><circle cx="196.76" cy="40.32" r="1.75"/><circle cx="199.63" cy="40.69" r="1.75"/><circle cx="202.49" cy="41.1" r="1.75"/><circle cx="205.35" cy="41.48" r="1.75"/><circle cx="208.22" cy="41.83" r="1.75"/><circle cx="211.08" cy="42.11" r="1.75"/><circle cx="213.95" cy="42.33" r="1.75"/><circle cx="216.81" cy="42.52" r="1.75"/><circle cx="219.67" cy="42.65" r="1.75"/><circle cx="222.54" cy="42.69" r="1.75"/><circle cx="225.4" cy="42.73" r="1.75"/><circle cx="228.41" cy="42.73" r="1.75"/><circle cx="231.42" cy="42.74" r="1.75"/><circle cx="234.42" cy="42.74" r="1.75"/><circle cx="237.43" cy="42.74" r="1.75"/><circle cx="240.44" cy="42.75" r="1.75"/><circle cx="243.45" cy="42.78" r="1.75"/><circle cx="246.45" cy="42.82" r="1.75"/><circle cx="249.46" cy="42.86" r="1.75"/><circle cx="252.47" cy="42.89" r="1.75"/><circle cx="255.48" cy="42.91" r="1.75"/><circle cx="258.48" cy="42.93" r="1.75"/><circle cx="261.49" cy="42.95" r="1.75"/><circle cx="264.5" cy="42.95" r="1.75"/><circle cx="270.02" cy="42.95" r="1.75"/><circle cx="275.55" cy="42.95" r="1.75"/><circle cx="281.08" cy="42.95" r="1.75"/><circle cx="286.6" cy="42.95" r="1.75"/><circle cx="292.24" cy="42.88" r="1.75"/><circle cx="297.88" cy="42.78" r="1.75"/><circle cx="303.51" cy="42.76" r="1.75"/><circle cx="309.15" cy="42.75" r="1.75"/><circle cx="314.79" cy="42.75" r="1.75"/><circle cx="320.43" cy="42.75" r="1.75"/><circle cx="326.06" cy="42.75" r="1.75"/><circle cx="331.7" cy="42.75" r="1.75"/></g>
<polyline points="55.6,38.39 58.58,38.58 61.57,38.6 64.55,38.6 67.54,38.52 70.52,38.43 73.51,38.34 76.49,38.25 79.48,38.18 82.46,38.1 85.45,38.02 88.43,37.96 91.42,37.9 94.4,37.86 100.1,37.92 105.8,37.97 111.5,37.99 117.2,38 122.85,37.98 128.5,38.08 134.15,38.18 139.8,38.25 145.45,38.4 151.1,38.57 156.75,38.63 162.4,38.39 165.26,38.45 168.13,38.53 170.99,38.64 173.85,38.78 176.72,38.96 179.58,39.22 182.45,39.47 185.31,39.75 188.17,40.06 191.04,40.34 193.9,40.64 196.76,40.95 199.63,41.22 202.49,41.57 205.35,41.96 208.22,42.31 211.08,42.59 213.95,42.78 216.81,42.88 219.67,42.92 222.54,42.94 225.4,42.96 228.41,42.95 231.42,42.94 234.42,42.93 237.43,42.91 240.44,42.89 243.45,42.87 246.45,42.84 249.46,42.82 252.47,42.8 255.48,42.79 258.48,42.79 261.49,42.78 264.5,42.78 270.02,42.79 275.55,42.79 281.08,42.79 286.6,42.8 292.24,42.75 297.88,42.71 303.51,42.73 309.15,42.84 314.79,42.9 320.43,42.94 326.06,42.96 331.7,42.99" fill="none" stroke="#000" stroke-width="1.6"/>
<g fill="#000"><circle cx="55.6" cy="38.39" r="1.75"/><circle cx="58.58" cy="38.58" r="1.75"/><circle cx="61.57" cy="38.6" r="1.75"/><circle cx="64.55" cy="38.6" r="1.75"/><circle cx="67.54" cy="38.52" r="1.75"/><circle cx="70.52" cy="38.43" r="1.75"/><circle cx="73.51" cy="38.34" r="1.75"/><circle cx="76.49" cy="38.25" r="1.75"/><circle cx="79.48" cy="38.18" r="1.75"/><circle cx="82.46" cy="38.1" r="1.75"/><circle cx="85.45" cy="38.02" r="1.75"/><circle cx="88.43" cy="37.96" r="1.75"/><circle cx="91.42" cy="37.9" r="1.75"/><circle cx="94.4" cy="37.86" r="1.75"/><circle cx="100.1" cy="37.92" r="1.75"/><circle cx="105.8" cy="37.97" r="1.75"/><circle cx="111.5" cy="37.99" r="1.75"/><circle cx="117.2" cy="38" r="1.75"/><circle cx="122.85" cy="37.98" r="1.75"/><circle cx="128.5" cy="38.08" r="1.75"/><circle cx="134.15" cy="38.18" r="1.75"/><circle cx="139.8" cy="38.25" r="1.75"/><circle cx="145.45" cy="38.4" r="1.75"/><circle cx="151.1" cy="38.57" r="1.75"/><circle cx="156.75" cy="38.63" r="1.75"/><circle cx="162.4" cy="38.39" r="1.75"/><circle cx="165.26" cy="38.45" r="1.75"/><circle cx="168.13" cy="38.53" r="1.75"/><circle cx="170.99" cy="38.64" r="1.75"/><circle cx="173.85" cy="38.78" r="1.75"/><circle cx="176.72" cy="38.96" r="1.75"/><circle cx="179.58" cy="39.22" r="1.75"/><circle cx="182.45" cy="39.47" r="1.75"/><circle cx="185.31" cy="39.75" r="1.75"/><circle cx="188.17" cy="40.06" r="1.75"/><circle cx="191.04" cy="40.34" r="1.75"/><circle cx="193.9" cy="40.64" r="1.75"/><circle cx="196.76" cy="40.95" r="1.75"/><circle cx="199.63" cy="41.22" r="1.75"/><circle cx="202.49" cy="41.57" r="1.75"/><circle cx="205.35" cy="41.96" r="1.75"/><circle cx="208.22" cy="42.31" r="1.75"/><circle cx="211.08" cy="42.59" r="1.75"/><circle cx="213.95" cy="42.78" r="1.75"/><circle cx="216.81" cy="42.88" r="1.75"/><circle cx="219.67" cy="42.92" r="1.75"/><circle cx="222.54" cy="42.94" r="1.75"/><circle cx="225.4" cy="42.96" r="1.75"/><circle cx="228.41" cy="42.95" r="1.75"/><circle cx="231.42" cy="42.94" r="1.75"/><circle cx="234.42" cy="42.93" r="1.75"/><circle cx="237.43" cy="42.91" r="1.75"/><circle cx="240.44" cy="42.89" r="1.75"/><circle cx="243.45" cy="42.87" r="1.75"/><circle cx="246.45" cy="42.84" r="1.75"/><circle cx="249.46" cy="42.82" r="1.75"/><circle cx="252.47" cy="42.8" r="1.75"/><circle cx="255.48" cy="42.79" r="1.75"/><circle cx="258.48" cy="42.79" r="1.75"/><circle cx="261.49" cy="42.78" r="1.75"/><circle cx="264.5" cy="42.78" r="1.75"/><circle cx="270.02" cy="42.79" r="1.75"/><circle cx="275.55" cy="42.79" r="1.75"/><circle cx="281.08" cy="42.79" r="1.75"/><circle cx="286.6" cy="42.8" r="1.75"/><circle cx="292.24" cy="42.75" r="1.75"/><circle cx="297.88" cy="42.71" r="1.75"/><circle cx="303.51" cy="42.73" r="1.75"/><circle cx="309.15" cy="42.84" r="1.75"/><circle cx="314.79" cy="42.9" r="1.75"/><circle cx="320.43" cy="42.94" r="1.75"/><circle cx="326.06" cy="42.96" r="1.75"/><circle cx="331.7" cy="42.99" r="1.75"/></g>
</g>
<rect x="55.6" y="10.6" width="276.1" height="211.3" fill="none" stroke="#555" stroke-width="1.1"/>
<line x1="52.1" y1="215.9" x2="55.6" y2="215.9" stroke="#555" stroke-width="1.1"/>
<text x="50.7" y="220.9" text-anchor="end" class="ta">0</text>
<line x1="52.1" y1="186.65" x2="55.6" y2="186.65" stroke="#555" stroke-width="1.1"/>
<text x="50.7" y="191.65" text-anchor="end" class="ta">5</text>
<line x1="52.1" y1="157.4" x2="55.6" y2="157.4" stroke="#555" stroke-width="1.1"/>
<text x="50.7" y="162.4" text-anchor="end" class="ta">10</text>
<line x1="52.1" y1="128.15" x2="55.6" y2="128.15" stroke="#555" stroke-width="1.1"/>
<text x="50.7" y="133.15" text-anchor="end" class="ta">15</text>
<line x1="52.1" y1="98.9" x2="55.6" y2="98.9" stroke="#555" stroke-width="1.1"/>
<text x="50.7" y="103.9" text-anchor="end" class="ta">20</text>
<line x1="52.1" y1="69.65" x2="55.6" y2="69.65" stroke="#555" stroke-width="1.1"/>
<text x="50.7" y="74.65" text-anchor="end" class="ta">25</text>
<line x1="52.1" y1="40.4" x2="55.6" y2="40.4" stroke="#555" stroke-width="1.1"/>
<text x="50.7" y="45.4" text-anchor="end" class="ta">30</text>
<line x1="52.1" y1="11.15" x2="55.6" y2="11.15" stroke="#555" stroke-width="1.1"/>
<text x="50.7" y="16.15" text-anchor="end" class="ta">35</text>
<line x1="55.6" y1="221.9" x2="55.6" y2="224.9" stroke="#555" stroke-width="1.1"/>
<text x="55.6" y="235.9" text-anchor="middle" class="tg">Γ</text>
<line x1="94.4" y1="221.9" x2="94.4" y2="224.9" stroke="#555" stroke-width="1.1"/>
<text x="94.4" y="235.9" text-anchor="middle" class="ta">M</text>
<line x1="117.2" y1="221.9" x2="117.2" y2="224.9" stroke="#555" stroke-width="1.1"/>
<text x="117.2" y="235.9" text-anchor="middle" class="ta">K</text>
<line x1="162.4" y1="221.9" x2="162.4" y2="224.9" stroke="#555" stroke-width="1.1"/>
<text x="162.4" y="235.9" text-anchor="middle" class="tg">Γ</text>
<line x1="225.4" y1="221.9" x2="225.4" y2="224.9" stroke="#555" stroke-width="1.1"/>
<text x="225.4" y="235.9" text-anchor="middle" class="ta">A</text>
<line x1="264.5" y1="221.9" x2="264.5" y2="224.9" stroke="#555" stroke-width="1.1"/>
<text x="264.5" y="235.9" text-anchor="middle" class="ta">L</text>
<line x1="286.6" y1="221.9" x2="286.6" y2="224.9" stroke="#555" stroke-width="1.1"/>
<text x="286.6" y="235.9" text-anchor="middle" class="ta">H</text>
<line x1="331.7" y1="221.9" x2="331.7" y2="224.9" stroke="#555" stroke-width="1.1"/>
<text x="331.7" y="235.9" text-anchor="middle" class="ta">A</text>
</g>
<text x="-0.5" y="14.8" class="lab">a</text>
<text transform="translate(29.0,116.7) rotate(-90)" text-anchor="middle" class="yl"><tspan font-family='"Liberation Serif", serif' font-style="italic">χ</tspan><tspan font-family='"Liberation Serif", serif' font-style="italic" font-size="8" dy="2">λ</tspan><tspan dy="-2" font-family='"Liberation Serif", serif'>(</tspan><tspan font-family='"Liberation Serif", serif' font-style="italic" font-weight="bold">q</tspan><tspan font-family='"Liberation Serif", serif'>)</tspan><tspan dx="2" font-size="13"> [1/eV]</tspan></text>
<g id="pb">
<line x1="446.8" y1="13.5" x2="446.8" y2="223.5" stroke="#c8c8c8" stroke-width="0.9"/>
<line x1="468.4" y1="13.5" x2="468.4" y2="223.5" stroke="#c8c8c8" stroke-width="0.9"/>
<line x1="511.4" y1="13.5" x2="511.4" y2="223.5" stroke="#c8c8c8" stroke-width="0.9"/>
<line x1="571.3" y1="13.5" x2="571.3" y2="223.5" stroke="#c8c8c8" stroke-width="0.9"/>
<line x1="608.3" y1="13.5" x2="608.3" y2="223.5" stroke="#c8c8c8" stroke-width="0.9"/>
<line x1="630" y1="13.5" x2="630" y2="223.5" stroke="#c8c8c8" stroke-width="0.9"/>
<clipPath id="cb"><rect x="409.5" y="13.5" width="263.6" height="210"/></clipPath>
<g clip-path="url(#cb)">
<g fill="#1f77b4"><rect x="407.05" y="42.55" width="4.9" height="4.9"/><rect x="410.16" y="47.88" width="4.9" height="4.9"/><rect x="413.27" y="50.38" width="4.9" height="4.9"/><rect x="416.38" y="53.38" width="4.9" height="4.9"/><rect x="419.48" y="56.57" width="4.9" height="4.9"/><rect x="422.59" y="60.05" width="4.9" height="4.9"/><rect x="425.7" y="64.02" width="4.9" height="4.9"/><rect x="428.81" y="70.21" width="4.9" height="4.9"/><rect x="431.92" y="76.34" width="4.9" height="4.9"/><rect x="435.03" y="80.92" width="4.9" height="4.9"/><rect x="438.13" y="84.9" width="4.9" height="4.9"/><rect x="441.24" y="85.95" width="4.9" height="4.9"/><rect x="444.35" y="86.05" width="4.9" height="4.9"/><rect x="449.75" y="86.34" width="4.9" height="4.9"/><rect x="455.15" y="86.8" width="4.9" height="4.9"/><rect x="460.55" y="88.51" width="4.9" height="4.9"/><rect x="465.95" y="90.55" width="4.9" height="4.9"/><rect x="471.32" y="87.96" width="4.9" height="4.9"/><rect x="476.7" y="85.74" width="4.9" height="4.9"/><rect x="482.07" y="78.65" width="4.9" height="4.9"/><rect x="487.45" y="67.45" width="4.9" height="4.9"/><rect x="492.82" y="59.53" width="4.9" height="4.9"/><rect x="498.2" y="53.45" width="4.9" height="4.9"/><rect x="503.57" y="48.32" width="4.9" height="4.9"/><rect x="508.95" y="41.95" width="4.9" height="4.9"/><rect x="511.8" y="45.95" width="4.9" height="4.9"/><rect x="514.65" y="48.18" width="4.9" height="4.9"/><rect x="517.51" y="52.42" width="4.9" height="4.9"/><rect x="520.36" y="57.34" width="4.9" height="4.9"/><rect x="523.21" y="63.62" width="4.9" height="4.9"/><rect x="526.06" y="69.81" width="4.9" height="4.9"/><rect x="528.92" y="79.96" width="4.9" height="4.9"/><rect x="531.77" y="91.67" width="4.9" height="4.9"/><rect x="534.62" y="101.69" width="4.9" height="4.9"/><rect x="537.47" y="112.41" width="4.9" height="4.9"/><rect x="540.33" y="125.3" width="4.9" height="4.9"/><rect x="543.18" y="134.25" width="4.9" height="4.9"/><rect x="546.03" y="145.97" width="4.9" height="4.9"/><rect x="548.88" y="155.82" width="4.9" height="4.9"/><rect x="551.74" y="166.09" width="4.9" height="4.9"/><rect x="554.59" y="173.94" width="4.9" height="4.9"/><rect x="557.44" y="180.02" width="4.9" height="4.9"/><rect x="560.29" y="185.29" width="4.9" height="4.9"/><rect x="563.15" y="188.67" width="4.9" height="4.9"/><rect x="566" y="189.97" width="4.9" height="4.9"/><rect x="568.85" y="190.56" width="4.9" height="4.9"/><rect x="571.93" y="190.61" width="4.9" height="4.9"/><rect x="575.02" y="190.62" width="4.9" height="4.9"/><rect x="578.1" y="190.63" width="4.9" height="4.9"/><rect x="581.18" y="190.64" width="4.9" height="4.9"/><rect x="584.27" y="190.64" width="4.9" height="4.9"/><rect x="587.35" y="190.65" width="4.9" height="4.9"/><rect x="590.43" y="190.66" width="4.9" height="4.9"/><rect x="593.52" y="190.67" width="4.9" height="4.9"/><rect x="596.6" y="190.68" width="4.9" height="4.9"/><rect x="599.68" y="190.69" width="4.9" height="4.9"/><rect x="602.77" y="190.7" width="4.9" height="4.9"/><rect x="605.85" y="190.71" width="4.9" height="4.9"/><rect x="611.27" y="190.72" width="4.9" height="4.9"/><rect x="616.7" y="190.74" width="4.9" height="4.9"/><rect x="622.12" y="190.76" width="4.9" height="4.9"/><rect x="627.55" y="190.77" width="4.9" height="4.9"/><rect x="632.94" y="190.79" width="4.9" height="4.9"/><rect x="638.32" y="190.8" width="4.9" height="4.9"/><rect x="643.71" y="190.82" width="4.9" height="4.9"/><rect x="649.1" y="190.84" width="4.9" height="4.9"/><rect x="654.49" y="190.85" width="4.9" height="4.9"/><rect x="659.88" y="190.87" width="4.9" height="4.9"/><rect x="665.26" y="190.88" width="4.9" height="4.9"/><rect x="670.65" y="190.9" width="4.9" height="4.9"/></g>
<g fill="#ff7f0e"><circle cx="409.5" cy="43.5" r="2.55"/><circle cx="412.61" cy="47.9" r="2.55"/><circle cx="415.72" cy="50.42" r="2.55"/><circle cx="418.82" cy="53.43" r="2.55"/><circle cx="421.93" cy="56.62" r="2.55"/><circle cx="425.04" cy="60.1" r="2.55"/><circle cx="428.15" cy="63.84" r="2.55"/><circle cx="431.26" cy="68.93" r="2.55"/><circle cx="434.37" cy="74.75" r="2.55"/><circle cx="437.48" cy="79.74" r="2.55"/><circle cx="440.58" cy="82.94" r="2.55"/><circle cx="443.69" cy="84.43" r="2.55"/><circle cx="446.8" cy="84.9" r="2.55"/><circle cx="452.2" cy="85.77" r="2.55"/><circle cx="457.6" cy="87.75" r="2.55"/><circle cx="463" cy="90.02" r="2.55"/><circle cx="468.4" cy="92.55" r="2.55"/><circle cx="473.77" cy="89.96" r="2.55"/><circle cx="479.15" cy="87.6" r="2.55"/><circle cx="484.52" cy="80.65" r="2.55"/><circle cx="489.9" cy="69.45" r="2.55"/><circle cx="495.27" cy="61.53" r="2.55"/><circle cx="500.65" cy="55.45" r="2.55"/><circle cx="506.02" cy="50.32" r="2.55"/><circle cx="511.4" cy="43.95" r="2.55"/><circle cx="514.25" cy="47.95" r="2.55"/><circle cx="517.1" cy="50.18" r="2.55"/><circle cx="519.96" cy="54.42" r="2.55"/><circle cx="522.81" cy="59.34" r="2.55"/><circle cx="525.66" cy="65.62" r="2.55"/><circle cx="528.51" cy="71.81" r="2.55"/><circle cx="531.37" cy="81.96" r="2.55"/><circle cx="534.22" cy="93.67" r="2.55"/><circle cx="537.07" cy="103.69" r="2.55"/><circle cx="539.92" cy="114.41" r="2.55"/><circle cx="542.78" cy="127.3" r="2.55"/><circle cx="545.63" cy="136.25" r="2.55"/><circle cx="548.48" cy="147.97" r="2.55"/><circle cx="551.33" cy="157.82" r="2.55"/><circle cx="554.19" cy="168.09" r="2.55"/><circle cx="557.04" cy="175.94" r="2.55"/><circle cx="559.89" cy="182.02" r="2.55"/><circle cx="562.74" cy="187.29" r="2.55"/><circle cx="565.6" cy="190.79" r="2.55"/><circle cx="568.45" cy="192.3" r="2.55"/><circle cx="571.3" cy="193.14" r="2.55"/><circle cx="574.38" cy="193.3" r="2.55"/><circle cx="577.47" cy="193.4" r="2.55"/><circle cx="580.55" cy="193.5" r="2.55"/><circle cx="583.63" cy="193.6" r="2.55"/><circle cx="586.72" cy="194.11" r="2.55"/><circle cx="589.8" cy="194.95" r="2.55"/><circle cx="592.88" cy="196.08" r="2.55"/><circle cx="595.97" cy="197.24" r="2.55"/><circle cx="599.05" cy="197.82" r="2.55"/><circle cx="602.13" cy="198.4" r="2.55"/><circle cx="605.22" cy="198.76" r="2.55"/><circle cx="608.3" cy="198.77" r="2.55"/><circle cx="613.72" cy="198.81" r="2.55"/><circle cx="619.15" cy="198.84" r="2.55"/><circle cx="624.58" cy="198.87" r="2.55"/><circle cx="630" cy="198.9" r="2.55"/><circle cx="635.39" cy="197.08" r="2.55"/><circle cx="640.77" cy="194.65" r="2.55"/><circle cx="646.16" cy="194" r="2.55"/><circle cx="651.55" cy="193.8" r="2.55"/><circle cx="656.94" cy="193.8" r="2.55"/><circle cx="662.33" cy="193.8" r="2.55"/><circle cx="667.71" cy="193.8" r="2.55"/><circle cx="673.1" cy="193.8" r="2.55"/></g>
<g fill="#2ca02c"><path d="M409.5 78.75L412.8 82.05L409.5 85.35L406.2 82.05Z"/><path d="M412.61 83.72L415.91 87.02L412.61 90.32L409.31 87.02Z"/><path d="M415.72 84.15L419.02 87.45L415.72 90.75L412.42 87.45Z"/><path d="M418.82 83.5L422.12 86.8L418.82 90.1L415.52 86.8Z"/><path d="M421.93 81.28L425.23 84.58L421.93 87.88L418.63 84.58Z"/><path d="M425.04 78.8L428.34 82.1L425.04 85.4L421.74 82.1Z"/><path d="M428.15 76.32L431.45 79.62L428.15 82.92L424.85 79.62Z"/><path d="M431.26 74.02L434.56 77.32L431.26 80.62L427.96 77.32Z"/><path d="M434.37 71.87L437.67 75.17L434.37 78.47L431.07 75.17Z"/><path d="M437.48 69.69L440.78 72.99L437.48 76.29L434.18 72.99Z"/><path d="M440.58 67.87L443.88 71.17L440.58 74.47L437.28 71.17Z"/><path d="M443.69 66.22L446.99 69.52L443.69 72.82L440.39 69.52Z"/><path d="M446.8 64.95L450.1 68.25L446.8 71.55L443.5 68.25Z"/><path d="M452.2 66.69L455.5 69.99L452.2 73.29L448.9 69.99Z"/><path d="M457.6 67.8L460.9 71.1L457.6 74.4L454.3 71.1Z"/><path d="M463 68.37L466.3 71.67L463 74.97L459.7 71.67Z"/><path d="M468.4 68.7L471.7 72L468.4 75.3L465.1 72Z"/><path d="M473.77 68.27L477.07 71.57L473.77 74.87L470.47 71.57Z"/><path d="M479.15 70.64L482.45 73.94L479.15 77.24L475.85 73.94Z"/><path d="M484.52 73.16L487.82 76.46L484.52 79.76L481.22 76.46Z"/><path d="M489.9 75.15L493.2 78.45L489.9 81.75L486.6 78.45Z"/><path d="M495.27 78.96L498.57 82.26L495.27 85.56L491.97 82.26Z"/><path d="M500.65 83.27L503.95 86.57L500.65 89.87L497.35 86.57Z"/><path d="M506.02 84.88L509.32 88.18L506.02 91.48L502.72 88.18Z"/><path d="M511.4 78.75L514.7 82.05L511.4 85.35L508.1 82.05Z"/><path d="M514.25 80.29L517.55 83.59L514.25 86.89L510.95 83.59Z"/><path d="M517.1 82.53L520.4 85.83L517.1 89.13L513.8 85.83Z"/><path d="M519.96 85.6L523.26 88.9L519.96 92.2L516.66 88.9Z"/><path d="M522.81 89.44L526.11 92.74L522.81 96.04L519.51 92.74Z"/><path d="M525.66 94.58L528.96 97.88L525.66 101.18L522.36 97.88Z"/><path d="M528.51 101.88L531.81 105.18L528.51 108.48L525.21 105.18Z"/><path d="M531.37 108.63L534.67 111.93L531.37 115.23L528.07 111.93Z"/><path d="M534.22 116.63L537.52 119.93L534.22 123.23L530.92 119.93Z"/><path d="M537.07 124.77L540.37 128.07L537.07 131.37L533.77 128.07Z"/><path d="M539.92 131.82L543.22 135.12L539.92 138.42L536.62 135.12Z"/><path d="M542.78 141.37L546.08 144.67L542.78 147.97L539.48 144.67Z"/><path d="M545.63 148.02L548.93 151.32L545.63 154.62L542.33 151.32Z"/><path d="M548.48 156.39L551.78 159.69L548.48 162.99L545.18 159.69Z"/><path d="M551.33 167.22L554.63 170.52L551.33 173.82L548.03 170.52Z"/><path d="M554.19 176.74L557.49 180.04L554.19 183.34L550.89 180.04Z"/><path d="M557.04 184.93L560.34 188.23L557.04 191.53L553.74 188.23Z"/><path d="M559.89 190.73L563.19 194.03L559.89 197.33L556.59 194.03Z"/><path d="M562.74 193.33L566.04 196.63L562.74 199.93L559.44 196.63Z"/><path d="M565.6 194.67L568.9 197.97L565.6 201.27L562.3 197.97Z"/><path d="M568.45 195.34L571.75 198.64L568.45 201.94L565.15 198.64Z"/><path d="M571.3 195.87L574.6 199.17L571.3 202.47L568 199.17Z"/><path d="M574.38 195.59L577.68 198.89L574.38 202.19L571.08 198.89Z"/><path d="M577.47 195.27L580.77 198.57L577.47 201.87L574.17 198.57Z"/><path d="M580.55 194.9L583.85 198.2L580.55 201.5L577.25 198.2Z"/><path d="M583.63 194.32L586.93 197.62L583.63 200.92L580.33 197.62Z"/><path d="M586.72 193.74L590.02 197.04L586.72 200.34L583.42 197.04Z"/><path d="M589.8 193.11L593.1 196.41L589.8 199.71L586.5 196.41Z"/><path d="M592.88 192.45L596.18 195.75L592.88 199.05L589.58 195.75Z"/><path d="M595.97 191.92L599.27 195.22L595.97 198.52L592.67 195.22Z"/><path d="M599.05 191.66L602.35 194.96L599.05 198.26L595.75 194.96Z"/><path d="M602.13 191.41L605.43 194.71L602.13 198.01L598.83 194.71Z"/><path d="M605.22 191.27L608.52 194.57L605.22 197.87L601.92 194.57Z"/><path d="M608.3 191.32L611.6 194.62L608.3 197.92L605 194.62Z"/><path d="M613.72 191.42L617.02 194.72L613.72 198.02L610.42 194.72Z"/><path d="M619.15 191.51L622.45 194.81L619.15 198.11L615.85 194.81Z"/><path d="M624.58 191.61L627.88 194.91L624.58 198.21L621.28 194.91Z"/><path d="M630 191.7L633.3 195L630 198.3L626.7 195Z"/><path d="M635.39 190.49L638.69 193.79L635.39 197.09L632.09 193.79Z"/><path d="M640.77 189.49L644.07 192.79L640.77 196.09L637.48 192.79Z"/><path d="M646.16 189.84L649.46 193.14L646.16 196.44L642.86 193.14Z"/><path d="M651.55 192.75L654.85 196.05L651.55 199.35L648.25 196.05Z"/><path d="M656.94 194.2L660.24 197.5L656.94 200.8L653.64 197.5Z"/><path d="M662.33 195.43L665.62 198.73L662.33 202.03L659.03 198.73Z"/><path d="M667.71 195.97L671.01 199.27L667.71 202.57L664.41 199.27Z"/><path d="M673.1 196.5L676.4 199.8L673.1 203.1L669.8 199.8Z"/></g>
</g>
<rect x="409.5" y="13.5" width="263.6" height="210" fill="none" stroke="#555" stroke-width="1.1"/>
<line x1="406.0" y1="13.5" x2="409.5" y2="13.5" stroke="#555" stroke-width="1.1"/>
<text x="405.2" y="18.6" text-anchor="end" class="ta">30.8</text>
<line x1="406.0" y1="43.5" x2="409.5" y2="43.5" stroke="#555" stroke-width="1.1"/>
<text x="405.2" y="48.6" text-anchor="end" class="ta">30.6</text>
<line x1="406.0" y1="73.5" x2="409.5" y2="73.5" stroke="#555" stroke-width="1.1"/>
<text x="405.2" y="78.6" text-anchor="end" class="ta">30.4</text>
<line x1="406.0" y1="103.5" x2="409.5" y2="103.5" stroke="#555" stroke-width="1.1"/>
<text x="405.2" y="108.6" text-anchor="end" class="ta">30.2</text>
<line x1="406.0" y1="133.5" x2="409.5" y2="133.5" stroke="#555" stroke-width="1.1"/>
<text x="405.2" y="138.6" text-anchor="end" class="ta">30.0</text>
<line x1="406.0" y1="163.5" x2="409.5" y2="163.5" stroke="#555" stroke-width="1.1"/>
<text x="405.2" y="168.6" text-anchor="end" class="ta">29.8</text>
<line x1="406.0" y1="193.5" x2="409.5" y2="193.5" stroke="#555" stroke-width="1.1"/>
<text x="405.2" y="198.6" text-anchor="end" class="ta">29.6</text>
<line x1="406.0" y1="223.5" x2="409.5" y2="223.5" stroke="#555" stroke-width="1.1"/>
<text x="405.2" y="228.6" text-anchor="end" class="ta">29.4</text>
<line x1="409.5" y1="223.5" x2="409.5" y2="226.5" stroke="#555" stroke-width="1.1"/>
<text x="409.5" y="237.9" text-anchor="middle" class="tg">Γ</text>
<line x1="446.8" y1="223.5" x2="446.8" y2="226.5" stroke="#555" stroke-width="1.1"/>
<text x="446.8" y="237.9" text-anchor="middle" class="ta">M</text>
<line x1="468.4" y1="223.5" x2="468.4" y2="226.5" stroke="#555" stroke-width="1.1"/>
<text x="468.4" y="237.9" text-anchor="middle" class="ta">K</text>
<line x1="511.4" y1="223.5" x2="511.4" y2="226.5" stroke="#555" stroke-width="1.1"/>
<text x="511.4" y="237.9" text-anchor="middle" class="tg">Γ</text>
<line x1="571.3" y1="223.5" x2="571.3" y2="226.5" stroke="#555" stroke-width="1.1"/>
<text x="571.3" y="237.9" text-anchor="middle" class="ta">A</text>
<line x1="608.3" y1="223.5" x2="608.3" y2="226.5" stroke="#555" stroke-width="1.1"/>
<text x="608.3" y="237.9" text-anchor="middle" class="ta">L</text>
<line x1="630" y1="223.5" x2="630" y2="226.5" stroke="#555" stroke-width="1.1"/>
<text x="630" y="237.9" text-anchor="middle" class="ta">H</text>
<line x1="673.1" y1="223.5" x2="673.1" y2="226.5" stroke="#555" stroke-width="1.1"/>
<text x="673.1" y="237.9" text-anchor="middle" class="ta">A</text>
<rect x="600.5" y="20.3" width="64.3" height="63.9" rx="3" fill="#fff" fill-opacity="0.8" stroke="#d0d0d0" stroke-width="0.9"/>
<rect x="617.1" y="28.6" width="4.8" height="4.8" fill="#1f77b4"/>
<circle cx="619.5" cy="50.7" r="2.6" fill="#ff7f0e"/>
<path d="M619.5 67.8L623 71.3L619.5 74.8L616 71.3Z" fill="#2ca02c"/>
<text x="643" y="35.4" class="leg">M<tspan font-size="10" dy="2.2">x</tspan></text>
<text x="643" y="55.1" class="leg">M<tspan font-size="10" dy="2.2">y</tspan></text>
<text x="643" y="75.2" class="leg">M<tspan font-size="10" dy="2.2">z</tspan></text>
</g>
<text x="351.5" y="14.8" class="lab">b</text>
<text transform="translate(371.1,118.8) rotate(-90)" text-anchor="middle" class="yl"><tspan font-family='"Liberation Serif", serif' font-style="italic">χ</tspan><tspan font-family='"Liberation Serif", serif' font-style="italic" font-size="8" dy="2">ξ</tspan><tspan dy="-2" font-family='"Liberation Serif", serif'>(</tspan><tspan font-family='"Liberation Serif", serif' font-style="italic" font-weight="bold">q</tspan><tspan font-family='"Liberation Serif", serif'>)</tspan><tspan dx="2" font-size="13"> [1/eV]</tspan></text>
<g id="pc">
<clipPath id="cc"><rect x="56.5" y="271.5" width="277.8" height="198.95"/></clipPath>
<line x1="96.5" y1="380.8" x2="96.5" y2="470.45" stroke="#444" stroke-width="1" stroke-dasharray="1.5 4.4"/>
<line x1="209.5" y1="273.3" x2="209.5" y2="470.45" stroke="#444" stroke-width="1" stroke-dasharray="1.5 4.4"/>
<g clip-path="url(#cc)">
<line x1="56.6" y1="470.4" x2="334.3" y2="391.75" stroke="#3a3a3a" stroke-width="1"/>
<line x1="108.9" y1="470.45" x2="334.3" y2="276.6" stroke="#3a3a3a" stroke-width="1"/>
</g>
<rect x="56.5" y="271.5" width="277.8" height="198.95" fill="none" stroke="#4a4a4a" stroke-width="1.2" stroke-linejoin="round"/>
<text x="57.8" y="487.2" text-anchor="middle" class="tc">0</text>
<line x1="91.22" y1="470.45" x2="91.22" y2="467.45" stroke="#4a4a4a" stroke-width="1"/>
<line x1="91.22" y1="271.5" x2="91.22" y2="274.5" stroke="#4a4a4a" stroke-width="1"/>
<text x="92.52" y="487.2" text-anchor="middle" class="tc">0.005</text>
<line x1="125.95" y1="470.45" x2="125.95" y2="467.45" stroke="#4a4a4a" stroke-width="1"/>
<line x1="125.95" y1="271.5" x2="125.95" y2="274.5" stroke="#4a4a4a" stroke-width="1"/>
<text x="127.25" y="487.2" text-anchor="middle" class="tc">0.01</text>
<line x1="160.68" y1="470.45" x2="160.68" y2="467.45" stroke="#4a4a4a" stroke-width="1"/>
<line x1="160.68" y1="271.5" x2="160.68" y2="274.5" stroke="#4a4a4a" stroke-width="1"/>
<text x="161.98" y="487.2" text-anchor="middle" class="tc">0.015</text>
<line x1="195.4" y1="470.45" x2="195.4" y2="467.45" stroke="#4a4a4a" stroke-width="1"/>
<line x1="195.4" y1="271.5" x2="195.4" y2="274.5" stroke="#4a4a4a" stroke-width="1"/>
<text x="196.7" y="487.2" text-anchor="middle" class="tc">0.02</text>
<line x1="230.12" y1="470.45" x2="230.12" y2="467.45" stroke="#4a4a4a" stroke-width="1"/>
<line x1="230.12" y1="271.5" x2="230.12" y2="274.5" stroke="#4a4a4a" stroke-width="1"/>
<text x="231.43" y="487.2" text-anchor="middle" class="tc">0.025</text>
<line x1="264.85" y1="470.45" x2="264.85" y2="467.45" stroke="#4a4a4a" stroke-width="1"/>
<line x1="264.85" y1="271.5" x2="264.85" y2="274.5" stroke="#4a4a4a" stroke-width="1"/>
<text x="266.15" y="487.2" text-anchor="middle" class="tc">0.03</text>
<line x1="299.58" y1="470.45" x2="299.58" y2="467.45" stroke="#4a4a4a" stroke-width="1"/>
<line x1="299.58" y1="271.5" x2="299.58" y2="274.5" stroke="#4a4a4a" stroke-width="1"/>
<text x="300.88" y="487.2" text-anchor="middle" class="tc">0.035</text>
<text x="335.6" y="487.2" text-anchor="middle" class="tc">0.04</text>
<text x="49.2" y="475.25" text-anchor="end" class="tc">0</text>
<line x1="56.5" y1="420.71" x2="59.5" y2="420.71" stroke="#4a4a4a" stroke-width="1"/>
<line x1="334.3" y1="420.71" x2="331.3" y2="420.71" stroke="#4a4a4a" stroke-width="1"/>
<text x="49.2" y="425.51" text-anchor="end" class="tc">0.05</text>
<line x1="56.5" y1="370.98" x2="59.5" y2="370.98" stroke="#4a4a4a" stroke-width="1"/>
<line x1="334.3" y1="370.98" x2="331.3" y2="370.98" stroke="#4a4a4a" stroke-width="1"/>
<text x="49.2" y="375.78" text-anchor="end" class="tc">0.1</text>
<line x1="56.5" y1="321.24" x2="59.5" y2="321.24" stroke="#4a4a4a" stroke-width="1"/>
<line x1="334.3" y1="321.24" x2="331.3" y2="321.24" stroke="#4a4a4a" stroke-width="1"/>
<text x="49.2" y="326.04" text-anchor="end" class="tc">0.15</text>
<text x="49.2" y="276.3" text-anchor="end" class="tc">0.2</text>
<g fill="#0000cd"><circle cx="63.45" cy="469.3" r="2.4"/><circle cx="70.39" cy="467.3" r="2.4"/><circle cx="77.34" cy="464.3" r="2.4"/><circle cx="84.28" cy="461.4" r="2.4"/><circle cx="91.22" cy="458.2" r="2.4"/><circle cx="98.17" cy="454.6" r="2.4"/><circle cx="105.12" cy="450.9" r="2.4"/><circle cx="112.06" cy="446.9" r="2.4"/><circle cx="119.01" cy="442.6" r="2.4"/><circle cx="125.95" cy="438" r="2.4"/><circle cx="139.84" cy="428.8" r="2.4"/><circle cx="153.73" cy="419.3" r="2.4"/><circle cx="167.62" cy="409.4" r="2.4"/><circle cx="181.51" cy="399" r="2.4"/><circle cx="195.4" cy="388.7" r="2.4"/><circle cx="209.29" cy="377" r="2.4"/><circle cx="223.18" cy="366.6" r="2.4"/><circle cx="237.07" cy="355.8" r="2.4"/><circle cx="250.96" cy="345" r="2.4"/><circle cx="264.85" cy="333.7" r="2.4"/><circle cx="278.74" cy="322.4" r="2.4"/><circle cx="292.63" cy="311.1" r="2.4"/><circle cx="306.52" cy="299.9" r="2.4"/><circle cx="320.41" cy="288.6" r="2.4"/><circle cx="334.3" cy="277.1" r="2.4"/></g>
<rect x="88.5" y="281.6" width="99.9" height="76.3" fill="#fff" stroke="#4a4a4a" stroke-width="1.2" stroke-linejoin="round"/>
<line x1="96" y1="357.9" x2="188.4" y2="301.3" stroke="#3a3a3a" stroke-width="1"/>
<line x1="88.5" y1="350.27" x2="90.5" y2="350.27" stroke="#4a4a4a" stroke-width="0.8"/>
<line x1="188.4" y1="350.27" x2="186.4" y2="350.27" stroke="#4a4a4a" stroke-width="0.8"/>
<line x1="88.5" y1="342.64" x2="90.5" y2="342.64" stroke="#4a4a4a" stroke-width="0.8"/>
<line x1="188.4" y1="342.64" x2="186.4" y2="342.64" stroke="#4a4a4a" stroke-width="0.8"/>
<line x1="88.5" y1="335.01" x2="90.5" y2="335.01" stroke="#4a4a4a" stroke-width="0.8"/>
<line x1="188.4" y1="335.01" x2="186.4" y2="335.01" stroke="#4a4a4a" stroke-width="0.8"/>
<line x1="88.5" y1="327.38" x2="90.5" y2="327.38" stroke="#4a4a4a" stroke-width="0.8"/>
<line x1="188.4" y1="327.38" x2="186.4" y2="327.38" stroke="#4a4a4a" stroke-width="0.8"/>
<line x1="88.5" y1="319.75" x2="90.5" y2="319.75" stroke="#4a4a4a" stroke-width="0.8"/>
<line x1="188.4" y1="319.75" x2="186.4" y2="319.75" stroke="#4a4a4a" stroke-width="0.8"/>
<line x1="88.5" y1="312.12" x2="90.5" y2="312.12" stroke="#4a4a4a" stroke-width="0.8"/>
<line x1="188.4" y1="312.12" x2="186.4" y2="312.12" stroke="#4a4a4a" stroke-width="0.8"/>
<line x1="88.5" y1="304.49" x2="90.5" y2="304.49" stroke="#4a4a4a" stroke-width="0.8"/>
<line x1="188.4" y1="304.49" x2="186.4" y2="304.49" stroke="#4a4a4a" stroke-width="0.8"/>
<line x1="88.5" y1="296.86" x2="90.5" y2="296.86" stroke="#4a4a4a" stroke-width="0.8"/>
<line x1="188.4" y1="296.86" x2="186.4" y2="296.86" stroke="#4a4a4a" stroke-width="0.8"/>
<line x1="88.5" y1="289.23" x2="90.5" y2="289.23" stroke="#4a4a4a" stroke-width="0.8"/>
<line x1="188.4" y1="289.23" x2="186.4" y2="289.23" stroke="#4a4a4a" stroke-width="0.8"/>
<line x1="113.47" y1="357.9" x2="113.47" y2="355.9" stroke="#4a4a4a" stroke-width="0.8"/>
<line x1="113.47" y1="281.6" x2="113.47" y2="283.6" stroke="#4a4a4a" stroke-width="0.8"/>
<line x1="138.45" y1="357.9" x2="138.45" y2="355.9" stroke="#4a4a4a" stroke-width="0.8"/>
<line x1="138.45" y1="281.6" x2="138.45" y2="283.6" stroke="#4a4a4a" stroke-width="0.8"/>
<line x1="163.43" y1="357.9" x2="163.43" y2="355.9" stroke="#4a4a4a" stroke-width="0.8"/>
<line x1="163.43" y1="281.6" x2="163.43" y2="283.6" stroke="#4a4a4a" stroke-width="0.8"/>
<circle cx="113.4" cy="347.7" r="2.4" fill="#0000cd"/>
<circle cx="138.2" cy="331.0" r="2.4" fill="#0000cd"/>
<circle cx="163.1" cy="310.5" r="2.4" fill="#0000cd"/>
<circle cx="188.1" cy="287.4" r="2.4" fill="#0000cd"/>
<text x="81" y="286.9" text-anchor="end" class="tc">0.01</text>
<text x="81" y="362.6" text-anchor="end" class="tc">0</text>
<text x="90" y="374.6" text-anchor="middle" class="tc">0</text>
<text x="189.6" y="374.6" text-anchor="middle" class="tc">0.004</text>
<text x="100" y="403.6" class="dl">Δ<tspan font-size="11" dy="3.5">1</tspan></text>
<text x="213.4" y="303.8" class="dl">Δ<tspan font-size="11" dy="3.8">2</tspan></text>
</g>
<text x="0.2" y="262.6" class="lab">c</text>
<text transform="translate(13.8,371.3) rotate(-90)" text-anchor="middle" class="tcl">1/<tspan font-family='"Liberation Serif", serif' font-style="italic">χ</tspan><tspan font-size="8" dy="2">ξ</tspan><tspan dy="-2">(</tspan><tspan font-weight="bold">0</tspan>) [eV]</text>
<text x="179.6" y="504.4" class="tcl"><tspan font-family='"Liberation Serif", serif' font-style="italic">T</tspan> [eV]</text>
<g id="pd">
<line x1="458.4" y1="271.6" x2="458.4" y2="274.0" stroke="#444" stroke-width="1"/>
<line x1="458.4" y1="320.2" x2="458.4" y2="470.5" stroke="#444" stroke-width="1" stroke-dasharray="2 4.1"/>
<line x1="633.4" y1="273.40000000000003" x2="633.4" y2="470.5" stroke="#444" stroke-width="1" stroke-dasharray="2 4.1"/>
<g fill="#4169e1"><rect x="404.55" y="464.65" width="4.7" height="4.7"/><rect x="415.3" y="460.45" width="4.7" height="4.7"/><rect x="426.05" y="456.45" width="4.7" height="4.7"/><rect x="436.65" y="452.35" width="4.7" height="4.7"/><rect x="447.4" y="448.05" width="4.7" height="4.7"/><rect x="458.25" y="443.95" width="4.7" height="4.7"/><rect x="469.05" y="439.75" width="4.7" height="4.7"/><rect x="479.65" y="435.45" width="4.7" height="4.7"/><rect x="490.35" y="431.05" width="4.7" height="4.7"/><rect x="501.15" y="426.45" width="4.7" height="4.7"/><rect x="522.55" y="417.45" width="4.7" height="4.7"/><rect x="544.05" y="408.05" width="4.7" height="4.7"/><rect x="565.55" y="398.65" width="4.7" height="4.7"/><rect x="587.05" y="389.05" width="4.7" height="4.7"/><rect x="608.55" y="379.15" width="4.7" height="4.7"/><rect x="630.05" y="369.15" width="4.7" height="4.7"/><rect x="651.55" y="359.25" width="4.7" height="4.7"/></g>
<g fill="#ff4500"><circle cx="406.9" cy="467" r="2.6"/><circle cx="417.65" cy="462.8" r="2.6"/><circle cx="428.4" cy="458.8" r="2.6"/><circle cx="439" cy="454.7" r="2.6"/><circle cx="449.75" cy="450.4" r="2.6"/><circle cx="460.6" cy="446.3" r="2.6"/><circle cx="471.4" cy="442.1" r="2.6"/><circle cx="482" cy="437.8" r="2.6"/><circle cx="492.7" cy="433.4" r="2.6"/><circle cx="503.5" cy="428.8" r="2.6"/><circle cx="524.9" cy="419.8" r="2.6"/><circle cx="546.4" cy="410.4" r="2.6"/><circle cx="567.9" cy="401" r="2.6"/><circle cx="589.4" cy="391.4" r="2.6"/><circle cx="610.9" cy="381.5" r="2.6"/><circle cx="632.4" cy="371.5" r="2.6"/><circle cx="653.9" cy="361.6" r="2.6"/></g>
<g fill="#228b22"><path d="M406.9 421L410 424.1L406.9 427.2L403.8 424.1Z"/><path d="M417.65 388.8L420.75 391.9L417.65 395L414.55 391.9Z"/><path d="M428.4 380.2L431.5 383.3L428.4 386.4L425.3 383.3Z"/><path d="M439 375.5L442.1 378.6L439 381.7L435.9 378.6Z"/><path d="M449.75 371.2L452.85 374.3L449.75 377.4L446.65 374.3Z"/><path d="M460.6 367.5L463.7 370.6L460.6 373.7L457.5 370.6Z"/><path d="M471.4 363.6L474.5 366.7L471.4 369.8L468.3 366.7Z"/><path d="M482 360.3L485.1 363.4L482 366.5L478.9 363.4Z"/><path d="M492.7 356.7L495.8 359.8L492.7 362.9L489.6 359.8Z"/><path d="M503.5 353L506.6 356.1L503.5 359.2L500.4 356.1Z"/><path d="M524.9 345.5L528 348.6L524.9 351.7L521.8 348.6Z"/><path d="M546.4 337.4L549.5 340.5L546.4 343.6L543.3 340.5Z"/><path d="M567.9 328.9L571 332L567.9 335.1L564.8 332Z"/><path d="M589.4 320L592.5 323.1L589.4 326.2L586.3 323.1Z"/><path d="M610.9 311L614 314.1L610.9 317.2L607.8 314.1Z"/><path d="M632.4 301.8L635.5 304.9L632.4 308L629.3 304.9Z"/><path d="M653.9 292.4L657 295.5L653.9 298.6L650.8 295.5Z"/></g>
<rect x="396.4" y="271.6" width="277.4" height="198.9" fill="none" stroke="#4a4a4a" stroke-width="1.2" stroke-linejoin="round"/>
<text x="397.6" y="487.6" text-anchor="middle" class="tc">0</text>
<line x1="442.63" y1="470.5" x2="442.63" y2="467.5" stroke="#4a4a4a" stroke-width="1"/>
<line x1="442.63" y1="271.6" x2="442.63" y2="274.6" stroke="#4a4a4a" stroke-width="1"/>
<text x="443.83" y="487.6" text-anchor="middle" class="tc">50</text>
<line x1="488.87" y1="470.5" x2="488.87" y2="467.5" stroke="#4a4a4a" stroke-width="1"/>
<line x1="488.87" y1="271.6" x2="488.87" y2="274.6" stroke="#4a4a4a" stroke-width="1"/>
<text x="490.07" y="487.6" text-anchor="middle" class="tc">100</text>
<line x1="535.1" y1="470.5" x2="535.1" y2="467.5" stroke="#4a4a4a" stroke-width="1"/>
<line x1="535.1" y1="271.6" x2="535.1" y2="274.6" stroke="#4a4a4a" stroke-width="1"/>
<text x="536.3" y="487.6" text-anchor="middle" class="tc">150</text>
<line x1="581.33" y1="470.5" x2="581.33" y2="467.5" stroke="#4a4a4a" stroke-width="1"/>
<line x1="581.33" y1="271.6" x2="581.33" y2="274.6" stroke="#4a4a4a" stroke-width="1"/>
<text x="582.53" y="487.6" text-anchor="middle" class="tc">200</text>
<line x1="627.57" y1="470.5" x2="627.57" y2="467.5" stroke="#4a4a4a" stroke-width="1"/>
<line x1="627.57" y1="271.6" x2="627.57" y2="274.6" stroke="#4a4a4a" stroke-width="1"/>
<text x="628.77" y="487.6" text-anchor="middle" class="tc">250</text>
<text x="675" y="487.6" text-anchor="middle" class="tc">300</text>
<text x="389.4" y="475.7" text-anchor="end" class="tc">0</text>
<line x1="396.4" y1="448.4" x2="399.4" y2="448.4" stroke="#4a4a4a" stroke-width="1"/>
<line x1="673.8" y1="448.4" x2="670.8" y2="448.4" stroke="#4a4a4a" stroke-width="1"/>
<text x="389.4" y="453.6" text-anchor="end" class="tc">2</text>
<line x1="396.4" y1="426.3" x2="399.4" y2="426.3" stroke="#4a4a4a" stroke-width="1"/>
<line x1="673.8" y1="426.3" x2="670.8" y2="426.3" stroke="#4a4a4a" stroke-width="1"/>
<text x="389.4" y="431.5" text-anchor="end" class="tc">4</text>
<line x1="396.4" y1="404.2" x2="399.4" y2="404.2" stroke="#4a4a4a" stroke-width="1"/>
<line x1="673.8" y1="404.2" x2="670.8" y2="404.2" stroke="#4a4a4a" stroke-width="1"/>
<text x="389.4" y="409.4" text-anchor="end" class="tc">6</text>
<line x1="396.4" y1="382.1" x2="399.4" y2="382.1" stroke="#4a4a4a" stroke-width="1"/>
<line x1="673.8" y1="382.1" x2="670.8" y2="382.1" stroke="#4a4a4a" stroke-width="1"/>
<text x="389.4" y="387.3" text-anchor="end" class="tc">8</text>
<line x1="396.4" y1="360" x2="399.4" y2="360" stroke="#4a4a4a" stroke-width="1"/>
<line x1="673.8" y1="360" x2="670.8" y2="360" stroke="#4a4a4a" stroke-width="1"/>
<text x="389.4" y="365.2" text-anchor="end" class="tc">10</text>
<line x1="396.4" y1="337.9" x2="399.4" y2="337.9" stroke="#4a4a4a" stroke-width="1"/>
<line x1="673.8" y1="337.9" x2="670.8" y2="337.9" stroke="#4a4a4a" stroke-width="1"/>
<text x="389.4" y="343.1" text-anchor="end" class="tc">12</text>
<line x1="396.4" y1="315.8" x2="399.4" y2="315.8" stroke="#4a4a4a" stroke-width="1"/>
<line x1="673.8" y1="315.8" x2="670.8" y2="315.8" stroke="#4a4a4a" stroke-width="1"/>
<text x="389.4" y="321" text-anchor="end" class="tc">14</text>
<line x1="396.4" y1="293.7" x2="399.4" y2="293.7" stroke="#4a4a4a" stroke-width="1"/>
<line x1="673.8" y1="293.7" x2="670.8" y2="293.7" stroke="#4a4a4a" stroke-width="1"/>
<text x="389.4" y="298.9" text-anchor="end" class="tc">16</text>
<text x="389.4" y="276.8" text-anchor="end" class="tc">18</text>
<text x="419.2" y="285.8" class="dleg"><tspan font-style="italic">H</tspan></text>
<line x1="432.5" y1="277.5" x2="432.5" y2="288.3" stroke="#333" stroke-width="0.85"/>
<line x1="436.3" y1="277.5" x2="436.3" y2="288.3" stroke="#333" stroke-width="0.85"/>
<text x="440.4" y="285.8" class="dleg"><tspan font-style="italic">x</tspan></text>
<text x="419.2" y="300.1" class="dleg"><tspan font-style="italic">H</tspan></text>
<line x1="432.5" y1="291.8" x2="432.5" y2="302.6" stroke="#333" stroke-width="0.85"/>
<line x1="436.3" y1="291.8" x2="436.3" y2="302.6" stroke="#333" stroke-width="0.85"/>
<text x="440.4" y="300.1" class="dleg"><tspan font-style="italic">y</tspan></text>
<text x="419.2" y="314.3" class="dleg"><tspan font-style="italic">H</tspan></text>
<line x1="432.5" y1="306" x2="432.5" y2="316.8" stroke="#333" stroke-width="0.85"/>
<line x1="436.3" y1="306" x2="436.3" y2="316.8" stroke="#333" stroke-width="0.85"/>
<text x="440.4" y="314.3" class="dleg"><tspan font-style="italic">z</tspan></text>
<rect x="466.4" y="279.4" width="5.2" height="5.2" fill="#4169e1"/>
<circle cx="469" cy="296.3" r="2.5" fill="#ff4500"/>
<path d="M469 307.2L472.1 310.3L469 313.4L465.9 310.3Z" fill="#228b22"/>
<text x="462" y="339.4" class="dl2">Δ<tspan font-size="10" dy="3.4">1</tspan></text>
<text x="636.4" y="284.3" class="dl2">Δ<tspan font-size="10" dy="3.4">2</tspan></text>
</g>
<text x="351.6" y="262.6" class="lab">d</text>
<text transform="translate(368.3,372) rotate(-90)" text-anchor="middle" class="tcl" style="font-size:12.8px">1/χ<tspan font-size="9" dy="2.5" font-family='"Liberation Serif", serif' font-style="italic">J</tspan><tspan dy="-2.5" dx="1.5"> [meV/μ</tspan><tspan font-size="9" dy="2.5">B</tspan><tspan font-size="9" dy="-8" dx="-6.3">2</tspan><tspan dy="5.5" dx="1.5">]</tspan></text>
<text x="523" y="504.6" class="tcl"><tspan font-family='"Liberation Serif", serif' font-style="italic">T</tspan> [K]</text>
</svg>
</body></html>
